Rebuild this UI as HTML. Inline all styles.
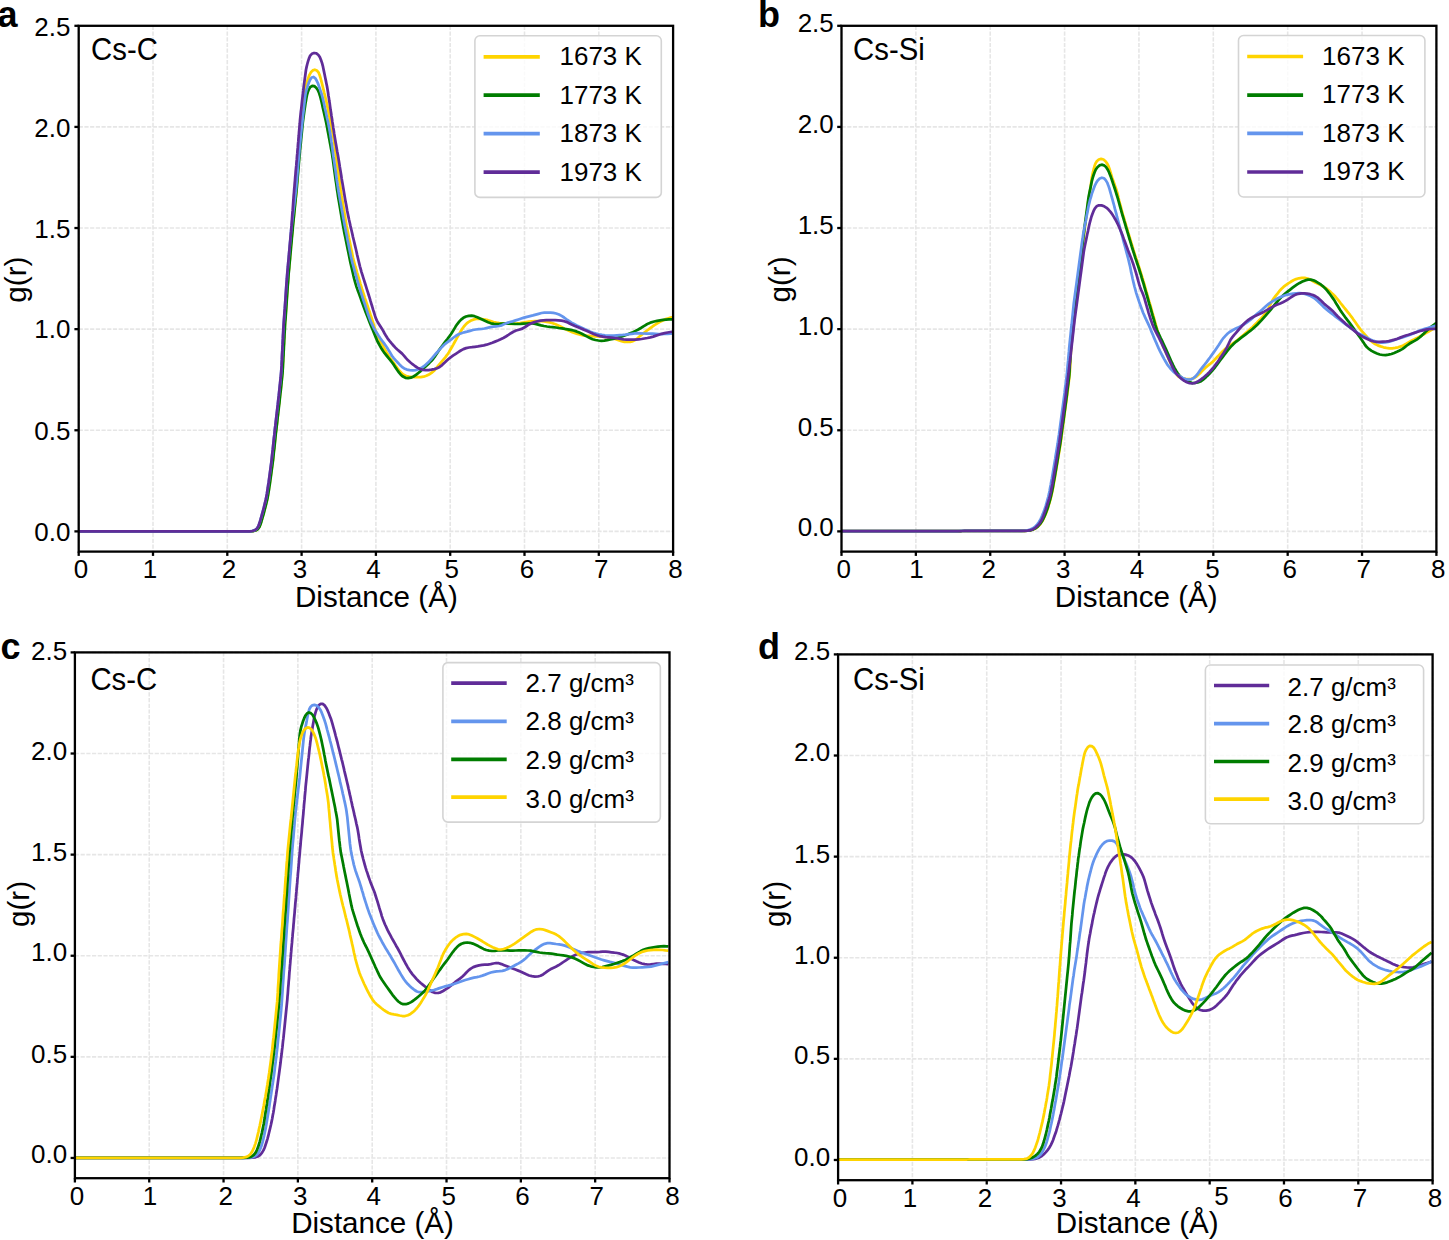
<!DOCTYPE html>
<html><head><meta charset="utf-8"><title>g(r)</title>
<style>
html,body{margin:0;padding:0;background:#fff;width:1449px;height:1240px;overflow:hidden;}
svg{display:block;}
text{font-family:"Liberation Sans", sans-serif;}
</style></head><body>
<svg width="1449" height="1240" viewBox="0 0 1449 1240">
<defs><clipPath id="clipa"><rect x="78.7" y="25.8" width="594.4" height="525.8"/></clipPath><clipPath id="clipb"><rect x="841.5" y="25.8" width="594.9" height="525.8"/></clipPath><clipPath id="clipc"><rect x="74.9" y="652.4" width="594.6" height="525.8"/></clipPath><clipPath id="clipd"><rect x="838.1" y="654.4" width="594.5" height="525.8"/></clipPath></defs>
<rect width="1449" height="1240" fill="#fff"/>
<g stroke="#e6e6e6" stroke-width="1.6" stroke-dasharray="4.2 1.5"><line x1="78.7" y1="25.8" x2="78.7" y2="551.6"/><line x1="153" y1="25.8" x2="153" y2="551.6"/><line x1="227.3" y1="25.8" x2="227.3" y2="551.6"/><line x1="301.6" y1="25.8" x2="301.6" y2="551.6"/><line x1="375.9" y1="25.8" x2="375.9" y2="551.6"/><line x1="450.2" y1="25.8" x2="450.2" y2="551.6"/><line x1="524.5" y1="25.8" x2="524.5" y2="551.6"/><line x1="598.8" y1="25.8" x2="598.8" y2="551.6"/><line x1="673.1" y1="25.8" x2="673.1" y2="551.6"/><line x1="78.7" y1="531.38" x2="673.1" y2="531.38"/><line x1="78.7" y1="430.26" x2="673.1" y2="430.26"/><line x1="78.7" y1="329.15" x2="673.1" y2="329.15"/><line x1="78.7" y1="228.03" x2="673.1" y2="228.03"/><line x1="78.7" y1="126.92" x2="673.1" y2="126.92"/><line x1="78.7" y1="25.8" x2="673.1" y2="25.8"/></g>
<g fill="none" stroke-width="2.75" stroke-linejoin="round" stroke-linecap="butt" clip-path="url(#clipa)">
<path stroke="#FFD400" d="M78.7,531.4 81.7,531.4 84.7,531.4 87.7,531.4 90.7,531.4 93.7,531.4 96.7,531.4 99.7,531.4 102.7,531.4 105.7,531.4 108.7,531.4 111.7,531.4 114.7,531.4 117.7,531.4 120.7,531.4 123.7,531.4 126.7,531.4 129.7,531.4 132.7,531.4 135.7,531.4 138.7,531.4 141.7,531.4 144.7,531.4 147.7,531.4 150.7,531.4 153.7,531.4 156.7,531.4 159.7,531.4 162.7,531.4 165.7,531.4 168.7,531.4 171.7,531.4 174.7,531.4 177.7,531.4 180.7,531.4 183.7,531.4 186.7,531.4 189.7,531.4 192.7,531.4 195.7,531.4 198.7,531.4 201.7,531.4 204.7,531.4 207.7,531.4 210.7,531.4 213.7,531.4 216.7,531.4 219.7,531.4 222.7,531.4 225.7,531.4 228.7,531.4 231.7,531.4 234.7,531.4 237.7,531.4 240.7,531.4 243.7,531.4 246.7,531.4 249.7,531.4 252.7,531.1 255.4,530.5 257.6,529.0 259.3,526.9 260.4,524.2 261.2,521.4 262.1,518.5 262.9,515.6 263.7,512.7 264.5,509.8 265.2,506.9 265.9,504.0 266.7,501.1 267.3,498.2 267.9,495.2 268.3,492.3 268.8,489.3 269.2,486.3 269.7,483.4 270.1,480.4 270.5,477.4 270.9,474.4 271.3,471.5 271.7,468.5 272.1,465.5 272.5,462.5 272.9,459.6 273.2,456.6 273.5,453.6 273.8,450.6 274.2,447.6 274.5,444.6 274.8,441.7 275.1,438.7 275.4,435.7 275.7,432.7 276.1,429.7 276.4,426.7 276.8,423.8 277.1,420.8 277.5,417.8 277.8,414.8 278.1,411.8 278.5,408.9 278.8,405.9 279.2,402.9 279.5,399.9 279.8,396.9 280.1,394.0 280.5,391.0 280.8,388.0 281.1,385.0 281.4,382.0 281.7,379.0 282.0,376.0 282.3,373.1 282.5,370.1 282.7,367.1 282.8,364.1 283.0,361.1 283.1,358.1 283.3,355.1 283.4,352.1 283.6,349.1 283.7,346.1 283.9,343.1 284.0,340.1 284.2,337.1 284.3,334.1 284.5,331.1 284.6,328.1 284.8,325.1 285.0,322.1 285.2,319.1 285.5,316.1 285.7,313.1 285.9,310.1 286.1,307.2 286.3,304.2 286.5,301.2 286.7,298.2 286.9,295.2 287.1,292.2 287.3,289.2 287.5,286.2 287.7,283.2 288.0,280.2 288.2,277.2 288.4,274.2 288.7,271.2 289.0,268.3 289.2,265.3 289.5,262.3 289.8,259.3 290.0,256.3 290.3,253.3 290.6,250.3 290.8,247.3 291.1,244.3 291.4,241.4 291.6,238.4 291.9,235.4 292.2,232.4 292.4,229.4 292.7,226.4 293.0,223.4 293.4,220.4 293.7,217.5 294.0,214.5 294.3,211.5 294.6,208.5 294.9,205.5 295.2,202.5 295.5,199.5 295.9,196.6 296.2,193.6 296.4,190.6 296.7,187.6 296.9,184.6 297.1,181.6 297.3,178.6 297.5,175.6 297.7,172.6 297.9,169.6 298.1,166.6 298.3,163.6 298.5,160.7 298.6,157.7 298.8,154.7 299.0,151.7 299.2,148.7 299.4,145.7 299.6,142.7 299.8,139.7 300.0,136.7 300.2,133.7 300.4,130.7 300.6,127.7 300.8,124.7 301.1,121.7 301.4,118.7 301.7,115.8 302.1,112.8 302.4,109.8 302.7,106.8 303.0,103.8 303.3,100.8 303.7,97.9 304.0,94.9 304.5,91.9 305.1,89.0 305.8,86.1 306.7,83.2 307.5,80.4 308.5,77.5 309.5,74.8 310.9,72.3 312.8,70.4 314.8,69.7 316.8,70.5 318.5,72.4 319.6,75.0 320.5,77.8 321.2,80.7 322.0,83.6 322.7,86.5 323.4,89.4 324.1,92.3 324.9,95.3 325.6,98.2 326.3,101.1 326.9,104.0 327.5,107.0 328.1,109.9 328.7,112.9 329.2,115.8 329.8,118.7 330.4,121.7 331.0,124.6 331.6,127.6 332.2,130.5 332.8,133.5 333.3,136.4 333.8,139.4 334.2,142.3 334.6,145.3 335.0,148.3 335.4,151.3 335.8,154.2 336.2,157.2 336.6,160.2 337.0,163.2 337.4,166.1 337.8,169.1 338.3,172.1 338.7,175.0 339.1,178.0 339.5,181.0 339.9,184.0 340.3,186.9 340.7,189.9 341.2,192.9 341.6,195.8 342.1,198.8 342.6,201.8 343.1,204.7 343.6,207.7 344.0,210.6 344.5,213.6 345.0,216.6 345.5,219.5 346.0,222.5 346.5,225.4 347.1,228.4 347.7,231.3 348.3,234.3 348.8,237.2 349.4,240.2 350.0,243.1 350.6,246.0 351.2,249.0 351.8,251.9 352.4,254.9 353.0,257.8 353.7,260.7 354.5,263.6 355.3,266.5 356.2,269.4 357.0,272.3 357.9,275.1 358.7,278.0 359.6,280.9 360.4,283.8 361.3,286.6 362.1,289.5 363.1,292.4 364.0,295.2 364.9,298.1 365.9,300.9 366.8,303.8 367.8,306.6 368.7,309.5 369.7,312.3 370.6,315.2 371.6,318.0 372.5,320.9 373.4,323.7 374.3,326.6 375.2,329.4 376.2,332.2 377.4,335.0 378.7,337.7 380.0,340.4 381.4,343.1 382.8,345.7 384.2,348.4 385.7,351.0 387.2,353.6 388.8,356.1 390.5,358.6 392.3,361.0 394.0,363.4 395.7,365.9 397.5,368.3 399.3,370.7 401.3,372.8 403.6,374.7 406.2,376.0 408.9,376.7 411.9,377.0 414.8,377.1 417.8,377.2 420.7,377.2 423.6,376.7 426.3,375.8 429.0,374.5 431.5,372.9 433.8,371.0 435.8,368.8 437.7,366.5 439.6,364.2 441.5,361.9 443.4,359.6 445.3,357.3 447.1,354.9 448.8,352.4 450.3,349.8 451.8,347.2 453.3,344.6 454.7,342.0 456.2,339.4 457.6,336.7 459.1,334.1 460.6,331.5 462.1,329.0 463.9,326.5 465.8,324.3 468.0,322.4 470.5,320.8 473.2,319.7 476.1,319.0 479.0,318.8 481.9,319.0 484.9,319.5 487.8,320.2 490.6,321.1 493.5,322.0 496.4,322.7 499.3,323.1 502.3,323.3 505.3,323.4 508.2,323.7 511.2,323.8 514.2,323.7 517.2,323.4 520.1,323.0 523.1,322.5 526.1,322.1 529.0,321.7 532.0,321.4 535.0,321.2 538.0,321.2 541.0,321.2 544.0,321.4 546.9,321.8 549.9,322.4 552.7,323.2 555.5,324.2 558.3,325.4 560.9,326.8 563.6,328.2 566.3,329.5 569.0,330.8 571.7,331.9 574.5,333.0 577.4,334.0 580.3,334.7 583.2,335.3 586.1,335.7 589.1,335.9 592.1,336.1 595.1,336.3 598.1,336.5 601.1,336.7 604.1,336.9 607.1,337.2 610.0,337.7 612.9,338.4 615.8,339.3 618.6,340.2 621.5,341.1 624.4,341.8 627.3,342.0 630.2,341.8 633.0,341.1 635.5,339.8 637.8,338.0 640.1,336.0 642.4,334.1 644.7,332.3 647.1,330.5 649.6,328.7 652.0,326.9 654.4,325.2 656.9,323.6 659.5,322.0 662.2,320.7 664.9,319.4 667.7,318.5 670.6,317.7 673.5,317.1 675.0,317.0"/>
<path stroke="#007D00" d="M78.7,531.4 81.7,531.4 84.7,531.4 87.7,531.4 90.7,531.4 93.7,531.4 96.7,531.4 99.7,531.4 102.7,531.4 105.7,531.4 108.7,531.4 111.7,531.4 114.7,531.4 117.7,531.4 120.7,531.4 123.7,531.4 126.7,531.4 129.7,531.4 132.7,531.4 135.8,531.4 138.8,531.4 141.8,531.4 144.8,531.4 147.8,531.4 150.8,531.4 153.8,531.4 156.8,531.4 159.8,531.4 162.8,531.4 165.8,531.4 168.8,531.4 171.8,531.4 174.8,531.4 177.8,531.4 180.8,531.4 183.8,531.4 186.8,531.4 189.8,531.4 192.8,531.4 195.8,531.4 198.8,531.4 201.8,531.4 204.8,531.4 207.8,531.4 210.8,531.4 213.8,531.4 216.8,531.4 219.8,531.4 222.8,531.4 225.8,531.4 228.8,531.4 231.8,531.4 234.8,531.4 237.8,531.4 240.8,531.4 243.9,531.4 246.9,531.4 249.8,531.4 252.8,531.2 255.5,530.5 257.8,529.1 259.4,526.9 260.5,524.3 261.4,521.5 262.2,518.6 263.1,515.7 263.9,512.8 264.6,509.9 265.4,507.0 266.1,504.1 266.8,501.2 267.5,498.2 268.0,495.3 268.5,492.3 269.0,489.4 269.4,486.4 269.9,483.4 270.3,480.4 270.7,477.5 271.1,474.5 271.5,471.5 271.9,468.5 272.3,465.6 272.7,462.6 273.1,459.6 273.4,456.6 273.7,453.6 274.0,450.7 274.4,447.7 274.7,444.7 275.0,441.7 275.3,438.7 275.6,435.7 275.9,432.7 276.3,429.8 276.6,426.8 277.0,423.8 277.3,420.8 277.6,417.8 278.0,414.8 278.3,411.9 278.7,408.9 279.0,405.9 279.4,402.9 279.7,399.9 280.0,396.9 280.3,393.9 280.7,391.0 281.0,388.0 281.3,385.0 281.6,382.0 281.9,379.0 282.2,376.0 282.5,373.0 282.7,370.0 282.9,367.1 283.0,364.1 283.2,361.1 283.3,358.1 283.5,355.1 283.6,352.1 283.8,349.1 283.9,346.1 284.1,343.1 284.2,340.1 284.4,337.1 284.5,334.1 284.7,331.1 284.9,328.1 285.0,325.1 285.2,322.1 285.5,319.1 285.7,316.1 285.9,313.1 286.1,310.1 286.3,307.1 286.5,304.1 286.7,301.1 286.9,298.1 287.1,295.1 287.3,292.1 287.5,289.1 287.7,286.1 288.0,283.1 288.2,280.1 288.4,277.1 288.6,274.2 288.9,271.2 289.2,268.2 289.4,265.2 289.7,262.2 290.0,259.2 290.2,256.2 290.5,253.2 290.8,250.2 291.0,247.2 291.3,244.2 291.6,241.3 291.8,238.3 292.1,235.3 292.4,232.3 292.7,229.3 292.9,226.3 293.2,223.3 293.5,220.3 293.8,217.3 294.1,214.3 294.4,211.4 294.7,208.4 295.0,205.4 295.3,202.4 295.6,199.4 295.9,196.4 296.2,193.4 296.5,190.4 296.8,187.5 297.0,184.5 297.3,181.5 297.5,178.5 297.8,175.5 298.1,172.5 298.3,169.5 298.6,166.5 298.8,163.5 299.1,160.5 299.4,157.5 299.6,154.5 299.9,151.6 300.2,148.6 300.5,145.6 300.8,142.6 301.1,139.6 301.4,136.6 301.7,133.6 302.0,130.6 302.3,127.7 302.6,124.7 302.9,121.7 303.3,118.7 303.7,115.7 304.1,112.7 304.5,109.8 305.0,106.8 305.4,103.8 305.9,100.9 306.4,97.9 307.0,95.0 307.8,92.1 308.8,89.4 310.3,87.1 312.2,85.9 314.3,86.1 316.2,87.7 317.8,90.0 319.0,92.7 319.9,95.5 320.7,98.4 321.4,101.3 322.1,104.3 322.7,107.2 323.4,110.1 324.1,113.1 324.7,116.0 325.4,118.9 326.0,121.8 326.6,124.8 327.2,127.7 327.7,130.7 328.3,133.6 328.8,136.6 329.4,139.5 329.9,142.5 330.5,145.4 331.0,148.4 331.6,151.4 332.1,154.3 332.5,157.3 333.0,160.3 333.4,163.2 333.8,166.2 334.2,169.2 334.6,172.2 335.0,175.1 335.4,178.1 335.8,181.1 336.3,184.0 336.7,187.0 337.1,190.0 337.6,193.0 338.0,195.9 338.5,198.9 339.0,201.8 339.5,204.8 340.0,207.8 340.5,210.7 341.0,213.7 341.5,216.7 341.9,219.6 342.5,222.6 343.0,225.5 343.6,228.5 344.1,231.4 344.7,234.4 345.3,237.3 345.9,240.3 346.5,243.2 347.1,246.2 347.7,249.1 348.3,252.0 348.9,255.0 349.5,257.9 350.1,260.9 350.7,263.8 351.4,266.7 352.1,269.6 352.8,272.6 353.4,275.5 354.1,278.4 354.9,281.3 355.7,284.2 356.6,287.1 357.6,289.9 358.7,292.7 359.7,295.5 360.7,298.4 361.7,301.2 362.7,304.0 363.7,306.8 364.8,309.7 365.8,312.5 366.9,315.3 368.0,318.1 369.1,320.9 370.2,323.7 371.3,326.4 372.5,329.2 373.6,332.0 374.7,334.8 375.9,337.6 377.0,340.3 378.4,343.0 379.8,345.6 381.3,348.2 382.9,350.8 384.6,353.2 386.5,355.5 388.4,357.8 390.3,360.1 392.1,362.5 393.9,364.9 395.5,367.4 397.2,370.0 398.9,372.4 400.8,374.7 403.0,376.6 405.4,377.8 408.1,378.2 410.9,377.7 413.5,376.5 416.0,374.9 418.3,373.0 420.6,371.1 422.8,369.1 425.0,367.1 427.2,365.0 429.4,362.9 431.5,360.8 433.4,358.5 435.2,356.1 436.9,353.6 438.5,351.1 440.2,348.6 441.9,346.2 443.7,343.8 445.5,341.4 447.4,339.0 449.2,336.6 450.9,334.2 452.5,331.7 454.1,329.1 455.6,326.6 457.3,324.1 459.2,321.7 461.1,319.6 463.4,317.8 466.0,316.5 468.8,315.8 471.6,315.7 474.5,316.2 477.3,317.2 480.0,318.5 482.7,319.8 485.4,321.1 488.1,322.3 490.9,323.3 493.8,323.9 496.7,324.1 499.7,323.9 502.6,323.6 505.6,323.5 508.6,323.5 511.6,323.7 514.6,323.9 517.6,324.0 520.6,323.9 523.6,323.7 526.5,323.5 529.5,323.4 532.5,323.4 535.4,323.8 538.3,324.6 541.1,325.4 544.0,326.0 547.0,326.5 550.0,326.9 552.9,327.2 555.9,327.5 558.9,328.0 561.8,328.4 564.8,328.9 567.8,329.3 570.7,329.8 573.6,330.5 576.4,331.4 579.2,332.6 581.9,333.8 584.6,335.2 587.2,336.6 589.9,338.0 592.6,339.2 595.4,340.0 598.4,340.5 601.3,340.8 604.3,340.7 607.2,340.2 610.1,339.5 613.1,338.8 616.0,338.1 618.9,337.3 621.7,336.5 624.6,335.5 627.4,334.5 630.2,333.3 632.9,332.2 635.6,330.9 638.3,329.5 640.9,328.0 643.4,326.4 646.0,324.8 648.6,323.4 651.3,322.3 654.2,321.5 657.1,320.9 660.1,320.4 663.0,319.9 666.0,319.6 669.0,319.4 672.0,319.4 675.0,319.4"/>
<path stroke="#6495ED" d="M78.7,531.4 81.7,531.4 84.7,531.4 87.7,531.4 90.7,531.4 93.7,531.4 96.7,531.4 99.7,531.4 102.7,531.4 105.7,531.4 108.7,531.4 111.7,531.4 114.7,531.4 117.7,531.4 120.7,531.4 123.7,531.4 126.8,531.4 129.8,531.4 132.8,531.4 135.8,531.4 138.8,531.4 141.8,531.4 144.8,531.4 147.8,531.4 150.8,531.4 153.8,531.4 156.8,531.4 159.8,531.4 162.8,531.4 165.8,531.4 168.8,531.4 171.8,531.4 174.8,531.4 177.8,531.4 180.8,531.4 183.8,531.4 186.8,531.4 189.8,531.4 192.8,531.4 195.8,531.4 198.8,531.4 201.8,531.4 204.8,531.4 207.8,531.4 210.8,531.4 213.8,531.4 216.8,531.4 219.9,531.4 222.9,531.4 225.9,531.4 228.9,531.4 231.9,531.4 234.9,531.4 237.9,531.4 240.9,531.4 243.9,531.4 246.9,531.4 249.9,531.3 252.7,530.9 255.3,529.9 257.2,528.2 258.6,525.7 259.6,523.0 260.4,520.1 261.2,517.2 262.0,514.3 262.8,511.4 263.6,508.5 264.3,505.6 265.1,502.7 265.8,499.8 266.4,496.8 266.9,493.9 267.3,490.9 267.8,487.9 268.2,485.0 268.7,482.0 269.1,479.0 269.5,476.0 269.9,473.1 270.3,470.1 270.7,467.1 271.1,464.1 271.5,461.2 271.8,458.2 272.1,455.2 272.5,452.2 272.8,449.2 273.1,446.2 273.4,443.2 273.7,440.3 274.1,437.3 274.4,434.3 274.7,431.3 275.0,428.3 275.4,425.3 275.7,422.3 276.1,419.4 276.4,416.4 276.8,413.4 277.1,410.4 277.5,407.4 277.8,404.4 278.1,401.5 278.5,398.5 278.8,395.5 279.1,392.5 279.4,389.5 279.7,386.5 280.1,383.5 280.4,380.6 280.7,377.6 281.0,374.6 281.2,371.6 281.4,368.6 281.6,365.6 281.7,362.6 281.9,359.6 282.0,356.6 282.2,353.6 282.3,350.6 282.5,347.6 282.6,344.6 282.8,341.6 282.9,338.6 283.0,335.6 283.2,332.6 283.4,329.6 283.5,326.6 283.7,323.6 283.9,320.6 284.2,317.6 284.4,314.6 284.6,311.6 284.8,308.6 285.0,305.6 285.2,302.6 285.4,299.6 285.6,296.6 285.8,293.7 286.0,290.7 286.2,287.7 286.4,284.7 286.7,281.7 286.9,278.7 287.1,275.7 287.4,272.7 287.6,269.7 287.9,266.7 288.2,263.7 288.4,260.7 288.7,257.7 289.0,254.7 289.2,251.7 289.5,248.8 289.8,245.8 290.0,242.8 290.3,239.8 290.6,236.8 290.8,233.8 291.1,230.8 291.4,227.8 291.8,224.8 292.1,221.9 292.5,218.9 292.8,215.9 293.2,212.9 293.5,209.9 293.9,206.9 294.3,204.0 294.6,201.0 295.0,198.0 295.3,195.0 295.7,192.0 296.0,189.0 296.3,186.1 296.5,183.1 296.8,180.1 297.1,177.1 297.3,174.1 297.6,171.1 297.8,168.1 298.1,165.1 298.3,162.1 298.6,159.1 298.9,156.1 299.2,153.2 299.4,150.2 299.7,147.2 300.0,144.2 300.3,141.2 300.6,138.2 300.9,135.2 301.2,132.2 301.5,129.2 301.8,126.3 302.2,123.3 302.5,120.3 302.8,117.3 303.1,114.3 303.5,111.3 303.8,108.3 304.1,105.4 304.5,102.4 304.8,99.4 305.2,96.4 305.6,93.5 306.3,90.5 307.2,87.7 308.1,84.8 309.1,82.0 310.3,79.4 311.7,77.5 313.4,77.0 315.1,78.1 316.5,80.3 317.8,83.0 318.8,85.8 319.8,88.6 320.7,91.4 321.7,94.3 322.5,97.2 323.2,100.1 323.9,103.0 324.5,106.0 325.1,108.9 325.8,111.8 326.4,114.8 327.0,117.7 327.7,120.6 328.3,123.6 328.9,126.5 329.5,129.5 330.0,132.4 330.5,135.4 330.9,138.3 331.3,141.3 331.8,144.3 332.2,147.3 332.6,150.2 333.0,153.2 333.4,156.2 333.9,159.2 334.3,162.1 334.7,165.1 335.1,168.1 335.6,171.1 336.0,174.0 336.4,177.0 336.8,180.0 337.3,182.9 337.7,185.9 338.2,188.9 338.6,191.8 339.2,194.8 339.7,197.8 340.2,200.7 340.8,203.7 341.3,206.6 341.8,209.6 342.4,212.5 342.9,215.5 343.4,218.4 344.0,221.4 344.5,224.4 345.1,227.3 345.7,230.2 346.3,233.2 346.9,236.1 347.4,239.1 348.0,242.0 348.6,245.0 349.2,247.9 349.8,250.9 350.4,253.8 351.0,256.7 351.7,259.7 352.4,262.6 353.2,265.5 354.0,268.4 354.8,271.3 355.6,274.2 356.4,277.0 357.2,279.9 358.1,282.8 358.9,285.7 359.8,288.6 360.7,291.5 361.6,294.3 362.5,297.2 363.4,300.0 364.4,302.9 365.3,305.7 366.3,308.6 367.2,311.4 368.1,314.3 369.1,317.1 370.1,319.9 371.3,322.7 372.6,325.4 373.9,328.1 375.4,330.7 377.0,333.3 378.6,335.8 380.3,338.3 382.1,340.7 383.9,343.1 385.6,345.5 387.3,348.0 388.8,350.6 390.4,353.1 391.9,355.7 393.7,358.1 395.7,360.3 397.7,362.5 399.7,364.7 401.9,366.8 404.2,368.4 406.9,369.6 409.7,370.2 412.7,370.4 415.6,370.1 418.4,369.3 421.1,368.1 423.6,366.5 425.9,364.6 428.1,362.6 430.1,360.4 432.1,358.1 434.0,355.8 436.0,353.5 438.0,351.3 440.0,349.1 442.0,346.9 444.2,344.8 446.5,342.9 448.9,341.1 451.3,339.3 453.6,337.5 456.0,335.8 458.6,334.3 461.4,333.2 464.2,332.3 467.1,331.6 470.0,330.8 472.9,330.0 475.8,329.5 478.7,329.2 481.6,329.0 484.5,328.5 487.4,327.8 490.4,327.1 493.3,326.6 496.2,326.3 499.1,326.0 501.8,325.3 504.4,324.1 507.1,322.9 509.9,322.0 512.7,321.3 515.6,320.4 518.4,319.5 521.3,318.5 524.1,317.6 527.0,316.8 530.0,316.1 532.9,315.4 535.7,314.6 538.6,313.8 541.5,313.0 544.4,312.6 547.4,312.5 550.4,312.6 553.4,312.9 556.2,313.5 559.0,314.5 561.6,315.9 564.1,317.5 566.5,319.3 569.0,321.0 571.5,322.6 574.1,324.0 576.8,325.4 579.5,326.7 582.2,328.0 584.9,329.3 587.7,330.5 590.4,331.7 593.2,332.7 596.1,333.6 599.0,334.3 602.0,334.9 604.9,335.3 607.9,335.6 610.9,335.7 613.9,335.6 616.9,335.3 619.8,335.1 622.8,334.9 625.8,334.6 628.8,334.2 631.8,333.8 634.7,333.4 637.7,333.2 640.7,333.3 643.6,333.5 646.6,333.6 649.6,333.6 652.6,333.6 655.6,333.8 658.5,334.0 661.5,334.1 664.5,334.0 667.5,333.8 670.5,333.7 673.5,333.7 675.0,333.6"/>
<path stroke="#602C98" d="M78.7,531.4 81.7,531.4 84.7,531.4 87.7,531.4 90.7,531.4 93.7,531.4 96.7,531.4 99.7,531.4 102.7,531.4 105.7,531.4 108.7,531.4 111.7,531.4 114.7,531.4 117.7,531.4 120.7,531.4 123.7,531.4 126.7,531.4 129.7,531.4 132.7,531.4 135.7,531.4 138.7,531.4 141.7,531.4 144.7,531.4 147.7,531.4 150.7,531.4 153.7,531.4 156.7,531.4 159.7,531.4 162.7,531.4 165.7,531.4 168.7,531.4 171.7,531.4 174.7,531.4 177.7,531.4 180.7,531.4 183.7,531.4 186.7,531.4 189.7,531.4 192.7,531.4 195.7,531.4 198.7,531.4 201.7,531.4 204.7,531.4 207.7,531.4 210.7,531.4 213.7,531.4 216.7,531.4 219.7,531.4 222.7,531.4 225.7,531.4 228.7,531.4 231.7,531.4 234.7,531.4 237.8,531.4 240.8,531.4 243.8,531.4 246.8,531.4 249.7,531.3 252.6,531.0 255.2,530.0 257.2,528.3 258.5,525.8 259.5,523.1 260.4,520.2 261.2,517.3 262.0,514.4 262.8,511.6 263.6,508.7 264.3,505.7 265.0,502.8 265.7,499.9 266.3,497.0 266.9,494.0 267.3,491.1 267.8,488.1 268.2,485.1 268.7,482.2 269.1,479.2 269.5,476.2 269.9,473.2 270.3,470.3 270.7,467.3 271.1,464.3 271.5,461.3 271.8,458.4 272.1,455.4 272.4,452.4 272.8,449.4 273.1,446.4 273.4,443.4 273.7,440.5 274.0,437.5 274.4,434.5 274.7,431.5 275.0,428.5 275.4,425.5 275.7,422.6 276.0,419.6 276.4,416.6 276.7,413.6 277.1,410.6 277.4,407.7 277.8,404.7 278.1,401.7 278.4,398.7 278.8,395.7 279.1,392.7 279.4,389.8 279.7,386.8 280.0,383.8 280.3,380.8 280.7,377.8 280.9,374.8 281.2,371.8 281.4,368.9 281.6,365.9 281.7,362.9 281.9,359.9 282.0,356.9 282.1,353.9 282.3,350.9 282.4,347.9 282.6,344.9 282.7,341.9 282.9,338.9 283.0,335.9 283.2,332.9 283.3,329.9 283.5,326.9 283.7,323.9 283.9,320.9 284.1,317.9 284.3,314.9 284.5,311.9 284.8,308.9 285.0,305.9 285.2,302.9 285.4,300.0 285.6,297.0 285.8,294.0 286.0,291.0 286.2,288.0 286.4,285.0 286.6,282.0 286.9,279.0 287.1,276.0 287.3,273.0 287.6,270.0 287.9,267.0 288.1,264.0 288.4,261.1 288.7,258.1 288.9,255.1 289.2,252.1 289.5,249.1 289.7,246.1 290.0,243.1 290.3,240.1 290.5,237.1 290.8,234.2 291.1,231.2 291.3,228.2 291.6,225.2 291.8,222.2 292.0,219.2 292.2,216.2 292.4,213.2 292.7,210.2 292.9,207.2 293.1,204.2 293.3,201.2 293.5,198.3 293.7,195.3 294.0,192.3 294.2,189.3 294.5,186.3 294.7,183.3 295.0,180.3 295.2,177.3 295.5,174.3 295.7,171.3 296.0,168.3 296.3,165.4 296.5,162.4 296.8,159.4 297.0,156.4 297.3,153.4 297.5,150.4 297.8,147.4 298.0,144.4 298.3,141.4 298.5,138.4 298.8,135.5 299.0,132.5 299.3,129.5 299.5,126.5 299.8,123.5 300.0,120.5 300.3,117.5 300.6,114.5 300.9,111.5 301.3,108.6 301.6,105.6 301.9,102.6 302.2,99.6 302.6,96.6 302.9,93.6 303.3,90.7 303.6,87.7 304.0,84.7 304.4,81.7 304.8,78.8 305.2,75.8 305.6,72.8 306.0,69.8 306.6,66.9 307.3,64.0 308.1,61.1 309.0,58.3 310.2,55.7 311.9,53.8 314.1,53.0 316.4,53.4 318.4,55.0 319.9,57.3 321.0,60.0 322.0,62.9 322.8,65.8 323.4,68.7 324.0,71.6 324.6,74.6 325.2,77.5 325.8,80.4 326.4,83.4 327.0,86.3 327.5,89.3 328.0,92.2 328.4,95.2 328.9,98.2 329.3,101.1 329.8,104.1 330.2,107.1 330.6,110.1 331.1,113.0 331.5,116.0 332.0,119.0 332.4,121.9 332.9,124.9 333.3,127.9 333.8,130.8 334.2,133.8 334.7,136.8 335.2,139.7 335.7,142.7 336.2,145.6 336.7,148.6 337.2,151.5 337.8,154.5 338.3,157.5 338.8,160.4 339.3,163.4 339.7,166.3 340.2,169.3 340.7,172.3 341.2,175.2 341.6,178.2 342.1,181.2 342.6,184.1 343.1,187.1 343.6,190.0 344.1,193.0 344.6,195.9 345.1,198.9 345.6,201.9 346.2,204.8 346.7,207.8 347.2,210.7 347.8,213.7 348.4,216.6 349.0,219.5 349.7,222.5 350.3,225.4 351.0,228.3 351.7,231.2 352.4,234.2 353.0,237.1 353.7,240.0 354.4,242.9 355.1,245.9 355.8,248.8 356.5,251.7 357.1,254.6 357.8,257.5 358.5,260.5 359.2,263.4 359.9,266.3 360.7,269.2 361.5,272.1 362.4,274.9 363.3,277.8 364.2,280.7 365.1,283.5 366.0,286.4 366.9,289.3 367.8,292.1 368.7,295.0 369.6,297.9 370.4,300.7 371.3,303.6 372.2,306.5 373.0,309.4 373.9,312.2 374.8,315.1 375.7,317.9 376.9,320.6 378.4,323.3 380.0,325.8 381.6,328.3 383.2,330.9 384.6,333.5 386.1,336.1 387.7,338.6 389.5,340.9 391.4,343.2 393.4,345.5 395.4,347.7 397.6,349.7 399.8,351.6 402.1,353.6 404.1,355.8 406.0,358.1 408.0,360.3 410.2,362.3 412.5,364.2 414.9,366.0 417.4,367.6 420.0,369.0 422.8,369.9 425.7,370.2 428.6,370.1 431.5,369.7 434.3,369.1 437.1,368.2 439.7,366.9 442.1,365.1 444.2,363.1 446.3,361.0 448.5,359.0 450.9,357.1 453.3,355.4 455.8,353.8 458.3,352.2 460.8,350.5 463.4,349.1 466.1,348.1 469.0,347.5 471.9,347.2 474.9,346.8 477.9,346.4 480.8,345.9 483.8,345.4 486.6,344.7 489.5,343.7 492.3,342.7 495.1,341.6 497.9,340.5 500.6,339.3 503.3,338.0 505.9,336.5 508.4,334.9 510.9,333.2 513.4,331.7 516.1,330.5 518.9,329.7 521.6,328.9 524.2,327.6 526.6,326.0 529.1,324.4 531.8,323.1 534.6,322.1 537.4,321.3 540.4,320.7 543.3,320.3 546.3,320.1 549.3,320.0 552.3,320.0 555.3,320.1 558.3,320.3 561.3,320.6 564.1,321.2 566.9,322.1 569.5,323.4 572.2,324.8 574.9,326.0 577.6,327.1 580.4,328.3 583.2,329.4 585.9,330.6 588.7,331.8 591.4,333.0 594.2,334.2 597.0,335.2 599.9,336.1 602.8,336.7 605.8,337.1 608.7,337.4 611.7,337.7 614.7,338.0 617.7,338.4 620.6,338.8 623.6,339.3 626.6,339.6 629.5,339.7 632.5,339.7 635.5,339.6 638.5,339.3 641.5,339.0 644.5,338.5 647.4,338.0 650.3,337.4 653.2,336.6 656.0,335.6 658.9,334.7 661.7,333.8 664.6,333.1 667.6,332.5 670.5,332.0 673.5,331.6 675.0,331.5"/>
</g>
<rect x="78.7" y="25.8" width="594.4" height="525.8" fill="none" stroke="#000" stroke-width="2.3"/>
<g stroke="#000" stroke-width="2.3"><line x1="78.7" y1="551.6" x2="78.7" y2="555.9"/><line x1="153" y1="551.6" x2="153" y2="555.9"/><line x1="227.3" y1="551.6" x2="227.3" y2="555.9"/><line x1="301.6" y1="551.6" x2="301.6" y2="555.9"/><line x1="375.9" y1="551.6" x2="375.9" y2="555.9"/><line x1="450.2" y1="551.6" x2="450.2" y2="555.9"/><line x1="524.5" y1="551.6" x2="524.5" y2="555.9"/><line x1="598.8" y1="551.6" x2="598.8" y2="555.9"/><line x1="673.1" y1="551.6" x2="673.1" y2="555.9"/><line x1="74.4" y1="531.38" x2="78.7" y2="531.38"/><line x1="74.4" y1="430.26" x2="78.7" y2="430.26"/><line x1="74.4" y1="329.15" x2="78.7" y2="329.15"/><line x1="74.4" y1="228.03" x2="78.7" y2="228.03"/><line x1="74.4" y1="126.92" x2="78.7" y2="126.92"/><line x1="74.4" y1="25.8" x2="78.7" y2="25.8"/></g>
<rect x="474.9" y="35.8" width="186.4" height="161.6" rx="5" ry="5" fill="#fff" fill-opacity="0.8" stroke="#d4d4d4" stroke-width="1.6"/>
<line x1="483.6" y1="56.8" x2="539.8" y2="56.8" stroke="#FFD400" stroke-width="3.7"/>
<line x1="483.6" y1="95.1" x2="539.8" y2="95.1" stroke="#007D00" stroke-width="3.7"/>
<line x1="483.6" y1="133.7" x2="539.8" y2="133.7" stroke="#6495ED" stroke-width="3.7"/>
<line x1="483.6" y1="172.1" x2="539.8" y2="172.1" stroke="#602C98" stroke-width="3.7"/>
<g stroke="#e6e6e6" stroke-width="1.6" stroke-dasharray="4.2 1.5"><line x1="841.5" y1="25.8" x2="841.5" y2="551.6"/><line x1="915.86" y1="25.8" x2="915.86" y2="551.6"/><line x1="990.23" y1="25.8" x2="990.23" y2="551.6"/><line x1="1064.59" y1="25.8" x2="1064.59" y2="551.6"/><line x1="1138.95" y1="25.8" x2="1138.95" y2="551.6"/><line x1="1213.31" y1="25.8" x2="1213.31" y2="551.6"/><line x1="1287.68" y1="25.8" x2="1287.68" y2="551.6"/><line x1="1362.04" y1="25.8" x2="1362.04" y2="551.6"/><line x1="1436.4" y1="25.8" x2="1436.4" y2="551.6"/><line x1="841.5" y1="531.38" x2="1436.4" y2="531.38"/><line x1="841.5" y1="430.26" x2="1436.4" y2="430.26"/><line x1="841.5" y1="329.15" x2="1436.4" y2="329.15"/><line x1="841.5" y1="228.03" x2="1436.4" y2="228.03"/><line x1="841.5" y1="126.92" x2="1436.4" y2="126.92"/><line x1="841.5" y1="25.8" x2="1436.4" y2="25.8"/></g>
<g fill="none" stroke-width="2.75" stroke-linejoin="round" stroke-linecap="butt" clip-path="url(#clipb)">
<path stroke="#FFD400" d="M841.5,531.2 844.5,531.2 847.5,531.2 850.5,531.2 853.5,531.2 856.5,531.2 859.5,531.2 862.5,531.2 865.5,531.2 868.5,531.1 871.5,531.1 874.5,531.1 877.5,531.1 880.5,531.1 883.5,531.1 886.5,531.1 889.5,531.1 892.6,531.1 895.6,531.1 898.6,531.1 901.6,531.1 904.6,531.1 907.6,531.1 910.6,531.1 913.6,531.1 916.6,531.0 919.6,531.0 922.6,531.0 925.6,531.0 928.6,531.0 931.6,531.0 934.6,531.0 937.6,531.0 940.6,531.0 943.6,531.0 946.6,531.0 949.6,531.0 952.6,531.0 955.6,531.0 958.6,531.0 961.6,531.0 964.6,530.9 967.6,530.9 970.6,530.9 973.6,530.9 976.6,530.9 979.6,530.9 982.6,530.9 985.6,530.9 988.6,530.9 991.6,530.9 994.7,530.9 997.7,530.9 1000.7,530.9 1003.7,530.9 1006.7,530.9 1009.7,530.9 1012.7,530.8 1015.7,530.8 1018.7,530.8 1021.7,530.8 1024.7,530.8 1027.7,530.7 1030.6,530.3 1033.3,529.5 1035.9,528.1 1038.2,526.3 1040.2,524.2 1041.9,521.8 1043.4,519.2 1044.6,516.5 1045.8,513.7 1046.9,510.9 1047.9,508.1 1048.7,505.2 1049.6,502.3 1050.4,499.4 1051.2,496.5 1051.8,493.6 1052.4,490.7 1053.0,487.7 1053.5,484.8 1054.1,481.8 1054.6,478.9 1055.1,475.9 1055.6,472.9 1056.1,470.0 1056.6,467.0 1057.1,464.0 1057.6,461.1 1058.1,458.1 1058.6,455.2 1059.1,452.2 1059.6,449.2 1060.1,446.3 1060.5,443.3 1061.0,440.3 1061.4,437.4 1061.8,434.4 1062.2,431.4 1062.6,428.4 1063.0,425.5 1063.4,422.5 1063.8,419.5 1064.2,416.5 1064.6,413.6 1065.0,410.6 1065.4,407.6 1065.8,404.6 1066.2,401.7 1066.6,398.7 1067.0,395.7 1067.4,392.7 1067.8,389.7 1068.1,386.8 1068.5,383.8 1068.9,380.8 1069.2,377.8 1069.5,374.8 1069.8,371.8 1070.0,368.8 1070.1,365.8 1070.3,362.8 1070.4,359.8 1070.6,356.8 1070.8,353.9 1070.9,350.9 1071.1,347.9 1071.2,344.9 1071.4,341.9 1071.7,338.9 1072.0,335.9 1072.3,332.9 1072.6,329.9 1072.9,326.9 1073.2,323.9 1073.5,320.9 1073.8,318.0 1074.1,315.0 1074.4,312.0 1074.7,309.0 1075.1,306.0 1075.4,303.0 1075.8,300.0 1076.2,297.1 1076.6,294.1 1077.0,291.1 1077.4,288.1 1077.8,285.2 1078.2,282.2 1078.6,279.2 1079.0,276.2 1079.3,273.3 1079.7,270.3 1080.1,267.3 1080.5,264.3 1080.8,261.3 1081.1,258.3 1081.5,255.4 1081.8,252.4 1082.2,249.4 1082.5,246.4 1082.9,243.4 1083.2,240.5 1083.6,237.5 1084.0,234.5 1084.3,231.5 1084.7,228.5 1085.1,225.6 1085.5,222.6 1085.9,219.6 1086.3,216.6 1086.7,213.6 1087.1,210.7 1087.4,207.7 1087.8,204.7 1088.2,201.7 1088.7,198.8 1089.2,195.8 1089.7,192.9 1090.2,189.9 1090.6,186.9 1091.0,183.9 1091.4,181.0 1091.8,178.0 1092.4,175.0 1093.0,172.1 1093.7,169.2 1094.5,166.3 1095.4,163.6 1096.8,161.2 1098.8,159.5 1101.1,158.9 1103.5,159.5 1105.5,161.2 1107.2,163.6 1108.5,166.2 1109.5,169.0 1110.4,171.9 1111.3,174.8 1112.1,177.6 1113.1,180.5 1114.1,183.3 1115.1,186.1 1116.1,189.0 1117.0,191.8 1117.8,194.7 1118.4,197.6 1119.1,200.6 1119.9,203.5 1120.7,206.4 1121.4,209.3 1122.2,212.2 1123.0,215.1 1123.9,217.9 1124.7,220.8 1125.6,223.7 1126.4,226.6 1127.3,229.5 1128.1,232.3 1129.0,235.2 1129.9,238.1 1130.7,241.0 1131.6,243.8 1132.5,246.7 1133.3,249.6 1134.2,252.5 1135.1,255.3 1136.1,258.2 1137.0,261.0 1138.0,263.9 1138.9,266.7 1139.8,269.6 1140.7,272.5 1141.6,275.3 1142.5,278.2 1143.3,281.1 1144.2,283.9 1145.0,286.8 1145.8,289.7 1146.7,292.6 1147.5,295.5 1148.3,298.4 1149.1,301.3 1150.0,304.2 1150.8,307.0 1151.6,309.9 1152.4,312.8 1153.3,315.7 1154.1,318.6 1154.9,321.5 1155.7,324.4 1156.5,327.3 1157.3,330.2 1158.2,333.0 1159.2,335.9 1160.2,338.7 1161.3,341.5 1162.5,344.3 1163.6,347.0 1164.8,349.8 1166.0,352.5 1167.2,355.3 1168.4,358.1 1169.6,360.8 1170.8,363.6 1172.0,366.3 1173.3,369.0 1174.7,371.6 1176.3,374.1 1178.2,376.3 1180.5,377.7 1183.1,378.5 1185.9,378.9 1188.8,379.1 1191.6,378.8 1194.3,377.9 1196.7,376.3 1198.9,374.3 1201.0,372.2 1203.0,370.0 1205.2,367.9 1207.5,366.0 1209.8,364.2 1212.1,362.2 1214.3,360.2 1216.3,358.0 1218.4,355.8 1220.4,353.6 1222.5,351.4 1224.7,349.4 1227.0,347.5 1229.4,345.7 1231.9,344.1 1234.4,342.4 1236.8,340.7 1239.1,338.8 1241.4,336.8 1243.7,334.9 1246.0,332.9 1248.2,330.9 1250.5,328.9 1252.7,326.9 1254.8,324.8 1256.9,322.7 1259.0,320.5 1261.1,318.4 1263.2,316.2 1265.0,313.9 1266.8,311.4 1268.3,308.9 1269.6,306.2 1270.9,303.5 1272.2,300.8 1273.8,298.3 1275.6,295.9 1277.5,293.6 1279.3,291.2 1281.3,289.0 1283.5,286.9 1285.8,285.1 1288.3,283.4 1290.8,281.8 1293.4,280.3 1296.1,279.1 1298.9,278.3 1301.8,277.9 1304.7,277.9 1307.6,278.5 1310.2,279.6 1312.8,281.1 1315.3,282.5 1318.0,283.8 1320.7,285.1 1323.3,286.6 1325.8,288.2 1328.2,290.0 1330.5,291.9 1332.7,293.9 1334.8,296.0 1336.8,298.3 1338.7,300.6 1340.5,303.0 1342.4,305.4 1344.2,307.7 1346.1,310.0 1348.0,312.4 1349.9,314.7 1351.7,317.1 1353.4,319.6 1355.2,322.0 1356.9,324.5 1358.6,326.9 1360.4,329.3 1362.3,331.7 1364.3,333.9 1366.3,336.2 1368.3,338.4 1370.4,340.5 1372.7,342.4 1375.1,344.0 1377.8,345.4 1380.6,346.4 1383.5,347.3 1386.4,347.9 1389.3,348.3 1392.2,348.3 1395.2,347.9 1398.1,347.3 1400.9,346.4 1403.7,345.2 1406.3,343.8 1408.9,342.3 1411.5,340.8 1414.1,339.4 1416.8,338.1 1419.5,336.7 1422.1,335.3 1424.7,333.8 1427.3,332.2 1429.9,330.7 1432.5,329.2 1435.1,327.8 1437.8,326.4"/>
<path stroke="#007D00" d="M841.5,531.2 844.5,531.2 847.5,531.2 850.5,531.2 853.5,531.2 856.5,531.2 859.5,531.2 862.5,531.2 865.5,531.2 868.5,531.1 871.5,531.1 874.5,531.1 877.5,531.1 880.5,531.1 883.5,531.1 886.5,531.1 889.5,531.1 892.6,531.1 895.6,531.1 898.6,531.1 901.6,531.1 904.6,531.1 907.6,531.1 910.6,531.1 913.6,531.1 916.6,531.0 919.6,531.0 922.6,531.0 925.6,531.0 928.6,531.0 931.6,531.0 934.6,531.0 937.6,531.0 940.6,531.0 943.6,531.0 946.6,531.0 949.6,531.0 952.6,531.0 955.6,531.0 958.6,531.0 961.6,531.0 964.6,530.9 967.6,530.9 970.6,530.9 973.6,530.9 976.6,530.9 979.6,530.9 982.6,530.9 985.6,530.9 988.7,530.9 991.7,530.9 994.7,530.9 997.7,530.9 1000.7,530.9 1003.7,530.9 1006.7,530.9 1009.7,530.9 1012.7,530.8 1015.7,530.8 1018.7,530.8 1021.7,530.8 1024.7,530.8 1027.7,530.7 1030.6,530.3 1033.3,529.4 1035.9,528.0 1038.1,526.1 1040.1,523.9 1041.8,521.5 1043.2,518.9 1044.5,516.2 1045.6,513.4 1046.7,510.6 1047.7,507.8 1048.5,504.9 1049.4,502.0 1050.2,499.1 1050.9,496.2 1051.6,493.3 1052.2,490.4 1052.8,487.4 1053.3,484.5 1053.8,481.5 1054.4,478.5 1054.9,475.6 1055.4,472.6 1055.9,469.7 1056.4,466.7 1056.9,463.7 1057.4,460.8 1057.9,457.8 1058.3,454.9 1058.8,451.9 1059.3,448.9 1059.8,446.0 1060.3,443.0 1060.7,440.0 1061.1,437.1 1061.5,434.1 1061.9,431.1 1062.3,428.1 1062.7,425.1 1063.2,422.2 1063.6,419.2 1064.0,416.2 1064.4,413.2 1064.8,410.3 1065.2,407.3 1065.6,404.3 1066.0,401.3 1066.4,398.4 1066.8,395.4 1067.1,392.4 1067.5,389.4 1067.9,386.4 1068.3,383.5 1068.6,380.5 1069.0,377.5 1069.3,374.5 1069.5,371.5 1069.7,368.5 1069.8,365.5 1070.0,362.5 1070.2,359.5 1070.3,356.5 1070.5,353.5 1070.6,350.5 1070.8,347.5 1071.0,344.5 1071.2,341.5 1071.4,338.6 1071.7,335.6 1072.0,332.6 1072.3,329.6 1072.6,326.6 1072.9,323.6 1073.3,320.6 1073.6,317.6 1073.9,314.7 1074.2,311.7 1074.5,308.7 1074.8,305.7 1075.1,302.7 1075.5,299.7 1075.9,296.8 1076.3,293.8 1076.7,290.8 1077.1,287.8 1077.5,284.9 1077.9,281.9 1078.3,278.9 1078.7,275.9 1079.1,272.9 1079.5,270.0 1079.8,267.0 1080.2,264.0 1080.5,261.0 1080.9,258.0 1081.2,255.0 1081.6,252.1 1081.9,249.1 1082.3,246.1 1082.6,243.1 1083.0,240.1 1083.3,237.2 1083.7,234.2 1084.1,231.2 1084.5,228.2 1084.8,225.2 1085.2,222.3 1085.6,219.3 1086.0,216.3 1086.4,213.3 1086.8,210.4 1087.2,207.4 1087.6,204.4 1088.0,201.4 1088.4,198.5 1088.9,195.5 1089.5,192.5 1090.1,189.6 1090.7,186.7 1091.3,183.7 1091.9,180.8 1092.7,177.9 1093.6,175.0 1094.6,172.2 1095.8,169.5 1097.4,167.2 1099.4,165.4 1101.7,164.7 1104.0,165.3 1106.0,167.0 1107.6,169.4 1108.9,172.0 1110.0,174.8 1111.1,177.6 1112.1,180.5 1113.0,183.3 1114.0,186.2 1114.9,189.0 1115.8,191.9 1116.7,194.8 1117.6,197.6 1118.4,200.5 1119.2,203.4 1120.0,206.3 1120.8,209.2 1121.6,212.1 1122.4,215.0 1123.3,217.9 1124.1,220.7 1125.0,223.6 1125.8,226.5 1126.7,229.4 1127.5,232.2 1128.4,235.1 1129.2,238.0 1130.1,240.9 1131.0,243.8 1131.8,246.6 1132.7,249.5 1133.6,252.4 1134.5,255.2 1135.4,258.1 1136.4,260.9 1137.3,263.8 1138.3,266.6 1139.2,269.5 1140.1,272.4 1141.0,275.2 1141.8,278.1 1142.7,281.0 1143.6,283.9 1144.4,286.8 1145.2,289.6 1146.0,292.5 1146.9,295.4 1147.7,298.3 1148.5,301.2 1149.3,304.1 1150.2,307.0 1151.0,309.9 1151.8,312.7 1152.6,315.6 1153.5,318.5 1154.3,321.4 1155.1,324.3 1156.0,327.2 1156.9,330.0 1158.1,332.7 1159.4,335.4 1160.7,338.1 1162.1,340.8 1163.3,343.5 1164.6,346.3 1165.9,349.0 1167.1,351.7 1168.3,354.5 1169.5,357.2 1170.7,360.0 1171.9,362.7 1173.2,365.4 1174.6,368.1 1176.1,370.7 1177.7,373.2 1179.5,375.6 1181.5,377.7 1183.8,379.5 1186.4,381.1 1189.1,382.2 1191.9,382.8 1194.8,383.0 1197.7,382.5 1200.4,381.5 1202.8,379.9 1205.1,378.0 1207.2,375.9 1209.4,373.8 1211.4,371.6 1213.3,369.3 1215.2,367.0 1217.0,364.6 1218.8,362.2 1220.6,359.8 1222.4,357.4 1224.2,355.0 1226.0,352.6 1227.9,350.2 1229.8,347.9 1231.8,345.7 1234.0,343.6 1236.2,341.6 1238.5,339.8 1240.9,337.9 1243.3,336.1 1245.7,334.3 1248.1,332.5 1250.5,330.7 1252.8,328.8 1255.0,326.8 1257.2,324.7 1259.3,322.5 1261.4,320.4 1263.4,318.2 1265.4,315.9 1267.3,313.6 1269.3,311.3 1271.2,309.0 1273.1,306.7 1274.9,304.3 1276.9,302.0 1278.8,299.8 1280.9,297.6 1283.0,295.5 1285.2,293.5 1287.6,291.6 1289.9,289.8 1292.3,287.9 1294.7,286.1 1297.2,284.4 1299.7,282.9 1302.4,281.6 1305.2,280.4 1307.9,279.7 1310.7,279.6 1313.4,280.3 1316.1,281.6 1318.6,283.1 1321.1,284.7 1323.4,286.6 1325.5,288.7 1327.4,290.9 1329.3,293.3 1331.1,295.7 1332.8,298.1 1334.5,300.6 1336.0,303.2 1337.6,305.8 1339.1,308.3 1340.7,310.9 1342.4,313.3 1344.2,315.8 1345.9,318.2 1347.8,320.6 1349.6,322.9 1351.4,325.3 1353.2,327.8 1354.9,330.2 1356.7,332.7 1358.4,335.1 1360.1,337.6 1361.8,340.1 1363.5,342.6 1365.1,345.0 1367.0,347.3 1369.2,349.2 1371.6,350.9 1374.3,352.3 1377.0,353.5 1379.8,354.5 1382.7,355.0 1385.6,355.1 1388.5,354.7 1391.4,354.0 1394.2,353.0 1396.9,351.8 1399.6,350.5 1402.2,349.1 1404.6,347.3 1406.9,345.5 1409.3,343.8 1411.9,342.3 1414.5,340.9 1417.1,339.3 1419.5,337.5 1421.7,335.6 1423.9,333.5 1426.0,331.4 1428.2,329.3 1430.4,327.3 1432.8,325.5 1435.2,323.8 1437.8,322.3"/>
<path stroke="#6495ED" d="M841.5,531.2 844.5,531.2 847.5,531.2 850.5,531.2 853.5,531.2 856.5,531.2 859.5,531.2 862.5,531.2 865.5,531.1 868.5,531.1 871.5,531.1 874.5,531.1 877.5,531.1 880.5,531.1 883.5,531.1 886.5,531.1 889.5,531.1 892.5,531.1 895.5,531.1 898.5,531.1 901.5,531.1 904.5,531.1 907.5,531.1 910.6,531.1 913.6,531.0 916.6,531.0 919.6,531.0 922.6,531.0 925.6,531.0 928.6,531.0 931.6,531.0 934.6,531.0 937.6,531.0 940.6,531.0 943.6,531.0 946.6,531.0 949.6,531.0 952.6,531.0 955.6,531.0 958.6,531.0 961.6,530.9 964.6,530.9 967.6,530.9 970.6,530.9 973.6,530.9 976.6,530.9 979.6,530.9 982.6,530.9 985.6,530.9 988.6,530.9 991.6,530.9 994.6,530.9 997.6,530.9 1000.6,530.9 1003.6,530.9 1006.6,530.9 1009.6,530.8 1012.6,530.8 1015.6,530.8 1018.6,530.8 1021.6,530.8 1024.6,530.7 1027.5,530.4 1030.3,529.6 1032.9,528.3 1035.2,526.5 1037.3,524.4 1039.0,522.0 1040.5,519.4 1041.7,516.7 1042.9,513.9 1044.0,511.1 1045.0,508.3 1045.9,505.4 1046.7,502.6 1047.5,499.7 1048.3,496.8 1049.0,493.9 1049.6,490.9 1050.1,488.0 1050.7,485.0 1051.2,482.1 1051.8,479.1 1052.3,476.2 1052.8,473.2 1053.3,470.2 1053.8,467.3 1054.3,464.3 1054.8,461.3 1055.3,458.4 1055.7,455.4 1056.2,452.5 1056.7,449.5 1057.2,446.5 1057.7,443.6 1058.1,440.6 1058.5,437.6 1059.0,434.7 1059.4,431.7 1059.8,428.7 1060.2,425.7 1060.6,422.8 1061.0,419.8 1061.4,416.8 1061.8,413.8 1062.2,410.9 1062.6,407.9 1063.0,404.9 1063.4,401.9 1063.8,399.0 1064.2,396.0 1064.6,393.0 1064.9,390.0 1065.3,387.0 1065.7,384.1 1066.1,381.1 1066.4,378.1 1066.8,375.1 1067.1,372.1 1067.4,369.1 1067.6,366.2 1067.9,363.2 1068.2,360.2 1068.4,357.2 1068.7,354.2 1069.0,351.2 1069.2,348.2 1069.5,345.2 1069.8,342.2 1070.1,339.2 1070.4,336.3 1070.7,333.3 1071.0,330.3 1071.3,327.3 1071.7,324.3 1072.0,321.3 1072.3,318.3 1072.6,315.4 1072.9,312.4 1073.2,309.4 1073.5,306.4 1073.8,303.4 1074.2,300.4 1074.6,297.5 1075.0,294.5 1075.4,291.5 1075.8,288.5 1076.2,285.6 1076.6,282.6 1077.0,279.6 1077.4,276.6 1077.8,273.7 1078.2,270.7 1078.6,267.7 1079.0,264.7 1079.4,261.8 1079.8,258.8 1080.2,255.8 1080.6,252.8 1081.0,249.9 1081.4,246.9 1081.8,243.9 1082.2,240.9 1082.7,238.0 1083.1,235.0 1083.6,232.0 1084.2,229.1 1084.7,226.1 1085.3,223.2 1085.9,220.2 1086.4,217.3 1087.0,214.3 1087.6,211.4 1088.1,208.4 1088.7,205.5 1089.4,202.6 1090.1,199.7 1091.0,196.8 1091.8,193.9 1092.8,191.1 1093.8,188.3 1094.9,185.5 1096.2,182.8 1097.7,180.4 1099.7,178.5 1101.9,177.7 1104.0,178.3 1105.7,180.1 1107.2,182.6 1108.3,185.4 1109.3,188.2 1110.1,191.1 1110.9,194.0 1111.7,196.9 1112.5,199.7 1113.3,202.6 1114.1,205.5 1114.8,208.4 1115.6,211.3 1116.4,214.2 1117.1,217.2 1117.9,220.1 1118.7,223.0 1119.5,225.9 1120.2,228.8 1121.0,231.7 1121.8,234.6 1122.6,237.5 1123.3,240.4 1124.1,243.3 1124.9,246.2 1125.7,249.1 1126.4,252.0 1127.2,254.9 1128.0,257.8 1128.7,260.7 1129.4,263.6 1130.1,266.5 1130.7,269.5 1131.2,272.4 1131.9,275.3 1132.5,278.3 1133.2,281.2 1133.9,284.1 1134.6,287.0 1135.4,289.9 1136.2,292.8 1137.1,295.7 1138.1,298.5 1139.0,301.4 1140.0,304.2 1141.0,307.0 1142.1,309.9 1143.1,312.7 1144.3,315.4 1145.5,318.2 1146.8,320.9 1148.1,323.6 1149.3,326.3 1150.5,329.1 1151.6,331.9 1152.8,334.6 1153.9,337.4 1155.1,340.2 1156.3,342.9 1157.5,345.7 1158.7,348.4 1160.0,351.1 1161.4,353.8 1162.8,356.5 1164.2,359.1 1165.7,361.7 1167.2,364.3 1169.0,366.7 1170.9,369.0 1172.9,371.1 1175.2,373.1 1177.6,374.8 1180.1,376.4 1182.7,377.9 1185.4,379.1 1188.1,379.7 1190.8,379.4 1193.3,378.3 1195.5,376.4 1197.4,374.2 1199.1,371.8 1200.8,369.3 1202.7,367.0 1204.6,364.7 1206.4,362.4 1208.2,359.9 1210.0,357.5 1211.7,355.1 1213.5,352.6 1215.2,350.2 1216.9,347.7 1218.6,345.2 1220.2,342.7 1221.8,340.2 1223.6,337.8 1225.6,335.6 1227.7,333.5 1230.1,331.7 1232.6,330.2 1235.3,328.8 1238.0,327.6 1240.7,326.2 1243.3,324.8 1245.9,323.2 1248.3,321.4 1250.6,319.6 1252.9,317.6 1255.1,315.6 1257.4,313.6 1259.7,311.7 1262.0,309.8 1264.2,307.8 1266.4,305.8 1268.7,303.9 1271.2,302.1 1273.7,300.6 1276.3,299.1 1279.0,297.8 1281.7,296.6 1284.5,295.5 1287.4,294.7 1290.3,294.1 1293.3,293.6 1296.3,293.3 1299.2,293.1 1302.2,293.3 1305.0,294.0 1307.9,294.9 1310.6,296.1 1313.2,297.5 1315.6,299.2 1317.9,301.2 1320.0,303.3 1322.1,305.4 1324.2,307.5 1326.5,309.4 1328.9,311.3 1331.2,313.1 1333.6,315.0 1335.9,316.9 1338.3,318.7 1340.7,320.5 1343.1,322.3 1345.5,324.1 1347.9,325.9 1350.3,327.7 1352.8,329.5 1355.2,331.2 1357.6,332.9 1360.2,334.3 1362.9,335.6 1365.6,337.0 1368.2,338.4 1370.9,339.7 1373.6,340.9 1376.4,341.9 1379.3,342.5 1382.3,342.7 1385.2,342.5 1388.1,342.0 1391.0,341.1 1393.8,340.2 1396.7,339.2 1399.5,338.3 1402.4,337.4 1405.3,336.5 1408.1,335.5 1410.9,334.4 1413.6,333.2 1416.4,332.0 1419.1,330.8 1422.0,329.8 1424.8,328.9 1427.7,328.0 1430.6,327.2 1433.4,326.3 1436.3,325.6 1437.8,325.3"/>
<path stroke="#602C98" d="M841.5,531.2 844.5,531.2 847.5,531.2 850.5,531.2 853.5,531.2 856.5,531.2 859.5,531.2 862.5,531.2 865.5,531.2 868.5,531.1 871.5,531.1 874.5,531.1 877.5,531.1 880.5,531.1 883.5,531.1 886.5,531.1 889.5,531.1 892.5,531.1 895.5,531.1 898.5,531.1 901.5,531.1 904.5,531.1 907.5,531.1 910.5,531.1 913.5,531.1 916.5,531.0 919.6,531.0 922.6,531.0 925.6,531.0 928.6,531.0 931.6,531.0 934.6,531.0 937.6,531.0 940.6,531.0 943.6,531.0 946.6,531.0 949.6,531.0 952.6,531.0 955.6,531.0 958.6,531.0 961.6,531.0 964.6,530.9 967.6,530.9 970.6,530.9 973.6,530.9 976.6,530.9 979.6,530.9 982.6,530.9 985.6,530.9 988.6,530.9 991.6,530.9 994.6,530.9 997.6,530.9 1000.6,530.9 1003.6,530.9 1006.6,530.9 1009.6,530.9 1012.6,530.8 1015.6,530.8 1018.6,530.8 1021.6,530.8 1024.6,530.8 1027.6,530.7 1030.4,530.2 1033.1,529.2 1035.6,527.6 1037.7,525.6 1039.6,523.3 1041.2,520.8 1042.5,518.1 1043.6,515.4 1044.6,512.6 1045.7,509.7 1046.6,506.9 1047.5,504.0 1048.4,501.2 1049.3,498.3 1050.1,495.4 1050.8,492.5 1051.3,489.6 1051.9,486.6 1052.5,483.7 1053.0,480.7 1053.5,477.7 1054.0,474.8 1054.5,471.8 1055.0,468.9 1055.5,465.9 1056.0,462.9 1056.5,460.0 1057.0,457.0 1057.5,454.1 1058.0,451.1 1058.5,448.1 1058.9,445.2 1059.4,442.2 1059.8,439.2 1060.2,436.3 1060.6,433.3 1061.0,430.3 1061.5,427.3 1061.9,424.4 1062.3,421.4 1062.7,418.4 1063.1,415.4 1063.5,412.5 1063.9,409.5 1064.3,406.5 1064.7,403.5 1065.1,400.6 1065.5,397.6 1065.9,394.6 1066.2,391.6 1066.6,388.7 1067.0,385.7 1067.4,382.7 1067.7,379.7 1068.1,376.7 1068.5,373.8 1068.8,370.8 1069.2,367.8 1069.5,364.8 1069.9,361.8 1070.2,358.8 1070.6,355.9 1070.9,352.9 1071.3,349.9 1071.6,346.9 1071.9,343.9 1072.3,341.0 1072.6,338.0 1072.9,335.0 1073.3,332.0 1073.6,329.0 1073.9,326.0 1074.3,323.1 1074.6,320.1 1075.0,317.1 1075.4,314.1 1075.8,311.1 1076.2,308.2 1076.6,305.2 1077.0,302.2 1077.4,299.2 1077.8,296.3 1078.2,293.3 1078.6,290.3 1079.0,287.3 1079.4,284.4 1079.8,281.4 1080.2,278.4 1080.6,275.4 1081.0,272.5 1081.4,269.5 1081.8,266.5 1082.2,263.5 1082.6,260.6 1083.0,257.6 1083.4,254.6 1083.8,251.6 1084.3,248.7 1084.9,245.7 1085.5,242.8 1086.1,239.9 1086.7,236.9 1087.3,234.0 1088.0,231.1 1088.6,228.1 1089.2,225.2 1089.9,222.3 1090.7,219.4 1091.5,216.5 1092.5,213.7 1093.6,210.9 1094.9,208.3 1096.6,206.3 1098.9,205.3 1101.5,205.4 1104.2,206.3 1106.6,207.8 1108.7,209.8 1110.7,212.1 1112.4,214.5 1114.0,217.1 1115.5,219.7 1116.9,222.3 1118.2,225.0 1119.4,227.8 1120.6,230.5 1121.7,233.3 1122.8,236.1 1123.8,238.9 1124.9,241.7 1125.9,244.5 1127.0,247.4 1128.0,250.2 1129.1,252.9 1130.2,255.7 1131.3,258.6 1132.3,261.4 1133.3,264.2 1134.2,267.1 1135.1,269.9 1136.0,272.8 1136.8,275.7 1137.6,278.6 1138.4,281.5 1139.2,284.4 1140.1,287.2 1141.2,290.0 1142.4,292.8 1143.5,295.6 1144.5,298.4 1145.3,301.3 1146.1,304.1 1146.9,307.0 1147.8,309.9 1148.6,312.8 1149.5,315.7 1150.4,318.5 1151.4,321.4 1152.4,324.2 1153.5,327.0 1154.7,329.7 1156.1,332.4 1157.5,335.0 1158.9,337.6 1160.2,340.3 1161.5,343.0 1162.8,345.8 1164.0,348.5 1165.3,351.2 1166.5,353.9 1167.8,356.7 1169.0,359.4 1170.3,362.1 1171.6,364.8 1172.8,367.6 1174.2,370.2 1175.7,372.8 1177.6,375.1 1179.7,377.2 1181.9,379.1 1184.3,380.9 1186.9,382.3 1189.6,383.2 1192.4,383.5 1195.1,382.9 1197.7,381.6 1200.2,380.0 1202.6,378.2 1204.9,376.3 1207.2,374.3 1209.3,372.2 1211.3,370.0 1213.3,367.7 1215.1,365.3 1216.9,362.9 1218.6,360.4 1220.2,357.9 1221.9,355.5 1223.6,353.0 1225.2,350.4 1226.7,347.9 1228.0,345.2 1229.2,342.5 1230.5,339.8 1232.2,337.4 1234.0,335.1 1236.0,332.8 1238.0,330.5 1239.9,328.3 1241.9,326.0 1244.0,323.8 1246.1,321.8 1248.4,319.9 1250.9,318.2 1253.5,316.7 1256.2,315.5 1258.9,314.3 1261.6,313.0 1264.2,311.6 1266.8,310.1 1269.4,308.6 1272.0,307.1 1274.7,305.7 1277.4,304.6 1280.2,303.5 1282.9,302.3 1285.5,300.9 1288.0,299.3 1290.5,297.6 1293.0,296.0 1295.6,294.6 1298.4,293.8 1301.3,293.4 1304.3,293.4 1307.2,293.7 1310.2,294.2 1313.0,295.0 1315.6,296.3 1318.1,297.9 1320.3,299.9 1322.4,302.0 1324.5,304.1 1326.8,306.0 1329.1,307.9 1331.3,309.8 1333.5,311.8 1335.5,314.0 1337.6,316.2 1339.7,318.3 1341.9,320.3 1344.1,322.3 1346.3,324.4 1348.6,326.3 1351.0,328.2 1353.3,330.0 1355.6,331.9 1358.0,333.8 1360.5,335.4 1363.1,336.9 1365.7,338.2 1368.4,339.5 1371.2,340.7 1374.0,341.5 1376.9,341.9 1379.9,341.9 1382.8,341.7 1385.8,341.5 1388.8,341.1 1391.7,340.4 1394.6,339.6 1397.4,338.7 1400.2,337.6 1403.0,336.5 1405.8,335.5 1408.6,334.7 1411.5,333.8 1414.4,332.9 1417.2,332.0 1420.1,331.0 1423.0,330.3 1425.9,329.7 1428.8,329.2 1431.8,329.0 1434.8,328.8 1437.8,328.6"/>
</g>
<rect x="841.5" y="25.8" width="594.9" height="525.8" fill="none" stroke="#000" stroke-width="2.3"/>
<g stroke="#000" stroke-width="2.3"><line x1="841.5" y1="551.6" x2="841.5" y2="555.9"/><line x1="915.86" y1="551.6" x2="915.86" y2="555.9"/><line x1="990.23" y1="551.6" x2="990.23" y2="555.9"/><line x1="1064.59" y1="551.6" x2="1064.59" y2="555.9"/><line x1="1138.95" y1="551.6" x2="1138.95" y2="555.9"/><line x1="1213.31" y1="551.6" x2="1213.31" y2="555.9"/><line x1="1287.68" y1="551.6" x2="1287.68" y2="555.9"/><line x1="1362.04" y1="551.6" x2="1362.04" y2="555.9"/><line x1="1436.4" y1="551.6" x2="1436.4" y2="555.9"/><line x1="837.2" y1="531.38" x2="841.5" y2="531.38"/><line x1="837.2" y1="430.26" x2="841.5" y2="430.26"/><line x1="837.2" y1="329.15" x2="841.5" y2="329.15"/><line x1="837.2" y1="228.03" x2="841.5" y2="228.03"/><line x1="837.2" y1="126.92" x2="841.5" y2="126.92"/><line x1="837.2" y1="25.8" x2="841.5" y2="25.8"/></g>
<rect x="1238.5" y="35.5" width="186.4" height="161.5" rx="5" ry="5" fill="#fff" fill-opacity="0.8" stroke="#d4d4d4" stroke-width="1.6"/>
<line x1="1247.2" y1="56.5" x2="1303.1" y2="56.5" stroke="#FFD400" stroke-width="3.7"/>
<line x1="1247.2" y1="95.1" x2="1303.1" y2="95.1" stroke="#007D00" stroke-width="3.7"/>
<line x1="1247.2" y1="133.4" x2="1303.1" y2="133.4" stroke="#6495ED" stroke-width="3.7"/>
<line x1="1247.2" y1="172" x2="1303.1" y2="172" stroke="#602C98" stroke-width="3.7"/>
<g stroke="#e6e6e6" stroke-width="1.6" stroke-dasharray="4.2 1.5"><line x1="74.9" y1="652.4" x2="74.9" y2="1178.2"/><line x1="149.23" y1="652.4" x2="149.23" y2="1178.2"/><line x1="223.55" y1="652.4" x2="223.55" y2="1178.2"/><line x1="297.88" y1="652.4" x2="297.88" y2="1178.2"/><line x1="372.2" y1="652.4" x2="372.2" y2="1178.2"/><line x1="446.52" y1="652.4" x2="446.52" y2="1178.2"/><line x1="520.85" y1="652.4" x2="520.85" y2="1178.2"/><line x1="595.17" y1="652.4" x2="595.17" y2="1178.2"/><line x1="669.5" y1="652.4" x2="669.5" y2="1178.2"/><line x1="74.9" y1="1157.98" x2="669.5" y2="1157.98"/><line x1="74.9" y1="1056.86" x2="669.5" y2="1056.86"/><line x1="74.9" y1="955.75" x2="669.5" y2="955.75"/><line x1="74.9" y1="854.63" x2="669.5" y2="854.63"/><line x1="74.9" y1="753.52" x2="669.5" y2="753.52"/><line x1="74.9" y1="652.4" x2="669.5" y2="652.4"/></g>
<g fill="none" stroke-width="2.75" stroke-linejoin="round" stroke-linecap="butt" clip-path="url(#clipc)">
<path stroke="#602C98" d="M74.9,1157.9 77.9,1157.9 80.9,1157.9 83.9,1157.9 86.9,1157.9 89.9,1157.9 92.9,1157.9 95.9,1157.9 98.9,1157.9 101.9,1157.9 104.9,1157.9 107.9,1157.9 110.9,1157.9 113.9,1157.9 116.9,1157.9 119.9,1157.9 122.9,1157.9 125.9,1157.9 128.9,1157.9 131.9,1157.9 134.9,1157.9 137.9,1157.9 140.9,1157.9 143.9,1157.9 146.9,1157.9 150.0,1157.9 153.0,1157.9 156.0,1157.9 159.0,1157.9 162.0,1157.9 165.0,1157.9 168.0,1157.9 171.0,1157.9 174.0,1157.9 177.0,1157.9 180.0,1157.9 183.0,1157.9 186.0,1157.9 189.0,1157.9 192.0,1157.9 195.0,1157.9 198.0,1157.9 201.0,1157.9 204.0,1157.9 207.0,1157.9 210.0,1157.9 213.0,1157.9 216.0,1157.9 219.0,1157.9 222.0,1157.9 225.0,1157.9 228.0,1157.9 231.0,1157.9 234.0,1157.9 237.0,1157.9 240.0,1157.9 243.0,1157.9 246.0,1157.9 249.0,1157.8 252.0,1157.7 254.9,1157.4 257.6,1156.5 260.0,1155.0 261.9,1152.9 263.4,1150.4 264.6,1147.7 265.6,1144.8 266.5,1142.0 267.4,1139.1 268.2,1136.2 268.9,1133.3 269.6,1130.4 270.3,1127.5 271.0,1124.5 271.6,1121.6 272.2,1118.7 272.7,1115.7 273.3,1112.8 273.8,1109.8 274.2,1106.8 274.7,1103.9 275.2,1100.9 275.6,1097.9 276.1,1095.0 276.5,1092.0 277.0,1089.0 277.4,1086.1 277.8,1083.1 278.2,1080.1 278.6,1077.1 279.0,1074.2 279.4,1071.2 279.8,1068.2 280.2,1065.2 280.6,1062.3 280.9,1059.3 281.3,1056.3 281.7,1053.3 282.0,1050.3 282.4,1047.4 282.7,1044.4 283.0,1041.4 283.4,1038.4 283.7,1035.4 284.0,1032.4 284.3,1029.4 284.6,1026.5 284.9,1023.5 285.2,1020.5 285.5,1017.5 285.8,1014.5 286.1,1011.5 286.4,1008.5 286.7,1005.6 287.0,1002.6 287.3,999.6 287.5,996.6 287.8,993.6 288.0,990.6 288.2,987.6 288.5,984.6 288.7,981.6 289.0,978.6 289.2,975.6 289.4,972.6 289.7,969.7 289.9,966.7 290.2,963.7 290.4,960.7 290.7,957.7 290.9,954.7 291.2,951.7 291.4,948.7 291.7,945.7 292.0,942.7 292.2,939.7 292.5,936.7 292.7,933.8 293.0,930.8 293.3,927.8 293.5,924.8 293.8,921.8 294.0,918.8 294.3,915.8 294.6,912.8 294.8,909.8 295.1,906.8 295.3,903.9 295.6,900.9 295.9,897.9 296.1,894.9 296.4,891.9 296.6,888.9 296.9,885.9 297.2,882.9 297.4,879.9 297.7,876.9 297.9,873.9 298.2,871.0 298.5,868.0 298.7,865.0 299.0,862.0 299.2,859.0 299.5,856.0 299.8,853.0 300.0,850.0 300.3,847.0 300.6,844.0 300.8,841.0 301.1,838.1 301.4,835.1 301.7,832.1 301.9,829.1 302.2,826.1 302.5,823.1 302.7,820.1 303.0,817.1 303.3,814.1 303.5,811.1 303.8,808.2 304.0,805.2 304.3,802.2 304.6,799.2 304.8,796.2 305.1,793.2 305.4,790.2 305.6,787.2 305.9,784.2 306.2,781.3 306.5,778.3 306.8,775.3 307.1,772.3 307.4,769.3 307.7,766.3 308.0,763.3 308.3,760.3 308.7,757.4 309.0,754.4 309.3,751.4 309.6,748.4 310.0,745.4 310.3,742.4 310.7,739.5 311.0,736.5 311.5,733.5 312.0,730.6 312.5,727.6 313.0,724.6 313.5,721.7 314.0,718.7 314.6,715.8 315.4,712.9 316.3,710.1 317.4,707.4 318.9,705.1 320.7,703.8 322.7,703.9 324.6,705.4 326.2,707.7 327.6,710.4 328.7,713.1 329.8,715.9 330.9,718.7 331.8,721.6 332.6,724.4 333.4,727.3 334.2,730.2 335.0,733.1 335.7,736.0 336.5,738.9 337.3,741.8 338.0,744.8 338.7,747.7 339.5,750.6 340.2,753.5 340.9,756.4 341.6,759.3 342.4,762.2 343.1,765.2 343.8,768.1 344.4,771.0 345.1,773.9 345.8,776.8 346.5,779.8 347.2,782.7 347.9,785.6 348.5,788.5 349.2,791.5 349.8,794.4 350.5,797.3 351.1,800.3 351.8,803.2 352.4,806.1 353.1,809.0 353.8,812.0 354.4,814.9 355.1,817.8 355.8,820.8 356.4,823.7 357.1,826.6 357.7,829.6 358.2,832.5 358.7,835.5 359.1,838.4 359.6,841.4 360.1,844.4 360.6,847.3 361.1,850.3 361.8,853.2 362.5,856.1 363.2,859.0 364.0,861.9 364.8,864.8 365.6,867.7 366.5,870.6 367.5,873.4 368.4,876.3 369.4,879.1 370.4,881.9 371.5,884.7 372.6,887.5 373.7,890.3 374.8,893.1 375.7,896.0 376.6,898.8 377.5,901.7 378.4,904.6 379.2,907.4 380.1,910.3 381.0,913.2 381.8,916.1 382.8,918.9 383.9,921.7 385.0,924.5 386.3,927.2 387.5,929.9 388.9,932.6 390.3,935.2 391.7,937.9 393.2,940.5 394.7,943.1 396.1,945.7 397.6,948.3 399.1,951.0 400.5,953.6 401.8,956.3 403.2,959.0 404.6,961.6 406.0,964.3 407.5,966.9 409.1,969.4 410.7,971.9 412.5,974.3 414.5,976.6 416.4,978.9 418.5,981.0 420.7,983.0 423.0,984.9 425.3,986.8 427.7,988.7 430.1,990.5 432.5,992.0 435.2,992.9 438.0,993.0 440.6,992.3 443.1,991.0 445.6,989.4 448.1,987.8 450.5,986.0 452.8,984.1 455.1,982.2 457.5,980.4 459.9,978.6 462.2,976.7 464.3,974.7 466.4,972.5 468.5,970.4 470.8,968.6 473.3,967.1 476.1,966.1 479.0,965.3 481.9,964.9 484.9,964.7 487.8,964.6 490.7,964.2 493.4,963.5 496.1,963.0 498.8,963.2 501.5,964.1 504.2,965.2 507.0,966.3 509.8,967.4 512.6,968.5 515.4,969.5 518.2,970.6 521.0,971.7 523.6,973.0 526.3,974.3 529.1,975.5 531.9,976.2 534.9,976.6 537.8,976.5 540.5,975.7 543.1,974.4 545.5,972.7 547.9,970.9 550.4,969.3 553.1,968.0 555.8,966.7 558.4,965.3 561.0,963.7 563.4,962.0 565.9,960.3 568.4,958.7 571.0,957.1 573.6,955.7 576.3,954.5 579.1,953.5 582.0,952.9 585.0,952.5 588.0,952.2 591.0,952.1 593.9,952.1 596.9,952.1 599.8,951.9 602.7,951.6 605.7,951.6 608.6,951.9 611.5,952.3 614.4,952.7 617.3,953.0 620.1,953.7 623.0,954.6 625.7,955.7 628.3,957.1 630.9,958.6 633.6,960.0 636.3,961.3 639.0,962.5 641.8,963.5 644.7,964.2 647.6,964.5 650.5,964.3 653.5,964.0 656.5,963.7 659.4,963.7 662.4,963.8 665.4,964.0 668.4,964.2"/>
<path stroke="#6495ED" d="M74.9,1157.9 77.9,1157.9 80.9,1157.9 83.9,1157.9 86.9,1157.9 89.9,1157.9 92.9,1157.9 95.9,1157.9 98.9,1157.9 101.9,1157.9 104.9,1157.9 107.9,1157.9 110.9,1157.9 113.9,1157.9 116.9,1157.9 119.9,1157.9 122.9,1157.9 125.9,1157.9 128.9,1157.9 131.9,1157.9 134.9,1157.9 137.9,1157.9 140.9,1157.9 143.9,1157.9 146.9,1157.9 149.9,1157.9 152.9,1157.9 155.9,1157.9 158.9,1157.9 161.9,1157.9 164.9,1157.9 167.9,1157.9 170.9,1157.9 173.9,1157.9 176.9,1157.9 179.9,1157.9 182.9,1157.9 185.9,1157.9 188.9,1157.9 191.9,1157.9 194.9,1157.9 197.9,1157.9 200.9,1157.9 203.9,1157.9 206.9,1157.9 209.9,1157.9 212.9,1157.9 215.9,1157.9 218.9,1157.9 221.9,1157.9 224.9,1157.9 227.9,1157.9 230.9,1157.9 233.9,1157.9 236.9,1157.9 239.9,1157.9 242.9,1157.9 245.9,1157.8 248.9,1157.7 251.8,1157.4 254.5,1156.5 256.7,1154.9 258.4,1152.7 259.8,1150.1 260.9,1147.3 261.9,1144.5 262.7,1141.6 263.4,1138.7 264.1,1135.8 264.7,1132.8 265.3,1129.9 265.9,1126.9 266.4,1124.0 266.9,1121.0 267.4,1118.1 267.9,1115.1 268.4,1112.1 268.8,1109.2 269.3,1106.2 269.7,1103.2 270.2,1100.3 270.6,1097.3 271.1,1094.3 271.5,1091.4 272.0,1088.4 272.4,1085.4 272.9,1082.5 273.3,1079.5 273.8,1076.5 274.2,1073.6 274.6,1070.6 274.9,1067.6 275.3,1064.6 275.7,1061.7 276.0,1058.7 276.4,1055.7 276.7,1052.7 277.1,1049.7 277.4,1046.8 277.7,1043.8 278.0,1040.8 278.3,1037.8 278.7,1034.8 279.0,1031.8 279.3,1028.9 279.6,1025.9 279.9,1022.9 280.2,1019.9 280.5,1016.9 280.8,1013.9 281.1,1010.9 281.3,1007.9 281.6,1005.0 281.8,1002.0 282.0,999.0 282.2,996.0 282.4,993.0 282.6,990.0 282.8,987.0 283.0,984.0 283.2,981.0 283.4,978.0 283.6,975.0 283.8,972.0 284.0,969.0 284.3,966.0 284.5,963.0 284.7,960.1 284.9,957.1 285.1,954.1 285.3,951.1 285.5,948.1 285.7,945.1 285.9,942.1 286.1,939.1 286.3,936.1 286.5,933.1 286.7,930.1 286.9,927.1 287.1,924.1 287.4,921.1 287.6,918.1 287.8,915.1 288.0,912.2 288.2,909.2 288.4,906.2 288.6,903.2 288.8,900.2 289.0,897.2 289.2,894.2 289.4,891.2 289.6,888.2 289.8,885.2 290.0,882.2 290.2,879.2 290.4,876.2 290.7,873.2 290.9,870.2 291.1,867.2 291.3,864.3 291.5,861.3 291.7,858.3 291.9,855.3 292.1,852.3 292.3,849.3 292.6,846.3 292.8,843.3 293.1,840.3 293.4,837.3 293.6,834.3 293.9,831.3 294.1,828.4 294.4,825.4 294.6,822.4 294.9,819.4 295.2,816.4 295.4,813.4 295.8,810.4 296.1,807.4 296.5,804.5 296.8,801.5 297.2,798.5 297.5,795.5 297.9,792.5 298.2,789.6 298.6,786.6 299.0,783.6 299.3,780.6 299.7,777.7 300.0,774.7 300.3,771.7 300.6,768.7 300.9,765.7 301.2,762.7 301.5,759.7 301.8,756.8 302.1,753.8 302.4,750.8 302.7,747.8 303.0,744.8 303.3,741.8 303.6,738.8 304.0,735.9 304.4,732.9 304.9,729.9 305.5,727.0 306.1,724.1 306.7,721.1 307.2,718.2 307.8,715.2 308.5,712.3 309.2,709.5 310.5,707.0 312.3,705.3 314.4,704.8 316.7,705.6 318.7,707.4 320.3,709.7 321.6,712.4 322.7,715.2 323.7,718.0 324.7,720.8 325.6,723.7 326.4,726.6 327.1,729.5 327.9,732.4 328.7,735.3 329.5,738.2 330.2,741.1 331.0,744.0 331.7,746.9 332.4,749.8 333.1,752.7 333.9,755.6 334.6,758.5 335.3,761.4 336.0,764.4 336.7,767.3 337.4,770.2 338.1,773.1 338.8,776.0 339.5,779.0 340.1,781.9 340.8,784.8 341.5,787.7 342.2,790.7 342.8,793.6 343.5,796.5 344.1,799.4 344.8,802.4 345.4,805.3 346.0,808.2 346.5,811.2 346.9,814.2 347.3,817.1 347.6,820.1 347.9,823.1 348.2,826.1 348.5,829.1 348.8,832.1 349.1,835.1 349.4,838.0 349.7,841.0 350.0,844.0 350.4,847.0 350.8,850.0 351.3,852.9 351.9,855.8 352.5,858.8 353.2,861.7 353.8,864.6 354.6,867.5 355.4,870.4 356.4,873.2 357.4,876.1 358.4,878.9 359.4,881.7 360.3,884.6 361.2,887.5 362.0,890.3 362.9,893.2 363.7,896.1 364.6,899.0 365.5,901.8 366.4,904.7 367.3,907.5 368.3,910.4 369.3,913.2 370.4,916.0 371.5,918.8 372.6,921.6 373.7,924.4 374.9,927.1 376.1,929.9 377.3,932.6 378.6,935.3 380.0,938.0 381.4,940.6 382.8,943.3 384.3,945.9 385.8,948.5 387.4,951.0 388.9,953.6 390.5,956.1 392.0,958.7 393.5,961.3 395.0,963.9 396.5,966.6 397.9,969.2 399.4,971.8 400.9,974.4 402.5,977.0 404.1,979.5 405.9,981.8 407.8,984.1 410.0,986.2 412.2,988.2 414.5,990.0 416.9,991.5 419.4,992.2 422.2,992.2 425.1,991.8 428.1,991.3 431.0,990.7 433.9,990.0 436.8,989.1 439.6,988.1 442.4,987.2 445.3,986.3 448.2,985.6 451.1,984.8 453.9,984.0 456.8,983.0 459.6,982.0 462.4,981.0 465.3,980.0 468.1,979.2 471.0,978.4 473.9,977.7 476.8,977.2 479.6,976.5 482.4,975.6 485.2,974.6 488.0,973.5 490.8,972.5 493.7,971.8 496.6,971.4 499.5,971.2 502.4,970.9 505.2,970.1 507.9,968.9 510.6,967.6 513.2,966.2 515.9,964.8 518.6,963.4 521.1,961.9 523.5,960.1 525.8,958.2 528.0,956.1 530.2,954.1 532.4,952.1 534.7,950.2 537.1,948.4 539.5,946.6 542.0,945.0 544.6,943.8 547.4,943.2 550.2,943.2 553.2,943.6 556.1,944.0 559.1,944.3 562.0,944.8 564.9,945.6 567.7,946.6 570.5,947.7 573.2,949.0 576.0,950.2 578.7,951.4 581.5,952.5 584.3,953.5 587.1,954.5 590.0,955.5 592.8,956.5 595.6,957.5 598.5,958.5 601.3,959.5 604.2,960.3 607.1,961.1 610.0,961.9 612.9,962.6 615.8,963.4 618.6,964.3 621.5,965.1 624.4,965.9 627.3,966.7 630.2,967.3 633.1,967.6 636.1,967.6 639.1,967.5 642.1,967.3 645.1,967.2 648.0,967.0 651.0,966.6 653.9,965.9 656.8,965.2 659.7,964.4 662.6,963.5 665.5,962.8 668.4,962.2"/>
<path stroke="#007D00" d="M74.9,1157.9 77.9,1157.9 80.9,1157.9 83.9,1157.9 86.9,1157.9 89.9,1157.9 92.9,1157.9 95.9,1157.9 98.9,1157.9 101.9,1157.9 104.9,1157.9 107.9,1157.9 110.9,1157.9 113.9,1157.9 116.9,1157.9 119.9,1157.9 122.9,1157.9 125.9,1157.9 128.9,1157.9 131.9,1157.9 134.9,1157.9 137.9,1157.9 141.0,1157.9 144.0,1157.9 147.0,1157.9 150.0,1157.9 153.0,1157.9 156.0,1157.9 159.0,1157.9 162.0,1157.9 165.0,1157.9 168.0,1157.9 171.0,1157.9 174.0,1157.9 177.0,1157.9 180.0,1157.9 183.0,1157.9 186.0,1157.9 189.0,1157.9 192.0,1157.9 195.0,1157.9 198.0,1157.9 201.0,1157.9 204.0,1157.9 207.0,1157.9 210.0,1157.9 213.0,1157.9 216.0,1157.9 219.0,1157.9 222.0,1157.9 225.0,1157.9 228.0,1157.9 231.0,1157.9 234.0,1157.9 237.0,1157.9 240.0,1157.9 243.0,1157.8 246.0,1157.7 248.9,1157.4 251.6,1156.5 253.8,1154.9 255.6,1152.7 256.9,1150.1 258.0,1147.3 258.9,1144.5 259.8,1141.6 260.5,1138.7 261.2,1135.7 261.9,1132.8 262.5,1129.9 263.1,1126.9 263.7,1124.0 264.2,1121.0 264.7,1118.1 265.1,1115.1 265.6,1112.1 266.1,1109.2 266.5,1106.2 267.0,1103.2 267.4,1100.3 267.9,1097.3 268.3,1094.3 268.7,1091.4 269.2,1088.4 269.6,1085.4 270.0,1082.4 270.4,1079.5 270.9,1076.5 271.3,1073.5 271.7,1070.6 272.0,1067.6 272.4,1064.6 272.8,1061.6 273.2,1058.6 273.5,1055.7 273.9,1052.7 274.2,1049.7 274.6,1046.7 274.9,1043.7 275.2,1040.7 275.5,1037.8 275.8,1034.8 276.1,1031.8 276.5,1028.8 276.8,1025.8 277.1,1022.8 277.4,1019.8 277.7,1016.8 278.0,1013.9 278.3,1010.9 278.6,1007.9 278.8,1004.9 279.1,1001.9 279.3,998.9 279.5,995.9 279.8,992.9 280.0,989.9 280.2,986.9 280.4,983.9 280.6,980.9 280.9,977.9 281.1,975.0 281.3,972.0 281.5,969.0 281.7,966.0 282.0,963.0 282.2,960.0 282.4,957.0 282.6,954.0 282.8,951.0 283.0,948.0 283.2,945.0 283.4,942.0 283.6,939.0 283.8,936.0 284.0,933.0 284.2,930.0 284.4,927.0 284.6,924.0 284.8,921.0 285.0,918.0 285.2,915.1 285.5,912.1 285.7,909.1 285.9,906.1 286.1,903.1 286.3,900.1 286.5,897.1 286.7,894.1 286.9,891.1 287.1,888.1 287.3,885.1 287.5,882.1 287.7,879.1 287.9,876.1 288.1,873.1 288.3,870.1 288.5,867.1 288.7,864.1 288.9,861.1 289.1,858.1 289.3,855.1 289.5,852.2 289.8,849.2 290.0,846.2 290.3,843.2 290.5,840.2 290.8,837.2 291.0,834.2 291.3,831.2 291.6,828.2 291.8,825.2 292.1,822.2 292.3,819.2 292.6,816.3 292.9,813.3 293.1,810.3 293.4,807.3 293.7,804.3 294.0,801.3 294.3,798.3 294.6,795.3 294.9,792.3 295.2,789.4 295.5,786.4 295.8,783.4 296.1,780.4 296.4,777.4 296.6,774.4 296.8,771.4 297.1,768.4 297.3,765.4 297.5,762.4 297.8,759.4 298.0,756.5 298.2,753.5 298.5,750.5 298.7,747.5 298.9,744.5 299.2,741.5 299.4,738.5 299.7,735.5 300.1,732.5 300.6,729.6 301.3,726.7 302.2,723.8 303.1,721.0 304.2,718.2 305.4,715.6 307.0,713.5 308.8,712.5 310.8,713.1 312.6,714.9 314.0,717.4 315.3,720.0 316.5,722.8 317.5,725.6 318.4,728.4 319.2,731.3 320.0,734.3 320.7,737.2 321.4,740.1 322.0,743.0 322.6,746.0 323.2,748.9 323.8,751.9 324.3,754.8 324.9,757.8 325.4,760.7 326.0,763.7 326.6,766.6 327.2,769.5 327.8,772.5 328.4,775.4 329.1,778.3 329.7,781.3 330.3,784.2 330.9,787.2 331.5,790.1 332.1,793.0 332.7,796.0 333.3,798.9 333.9,801.9 334.5,804.8 335.1,807.8 335.6,810.7 336.2,813.7 336.7,816.6 337.2,819.6 337.5,822.6 337.8,825.5 338.1,828.5 338.4,831.5 338.7,834.5 339.0,837.5 339.3,840.5 339.7,843.5 340.0,846.4 340.4,849.4 340.8,852.4 341.4,855.3 342.0,858.3 342.6,861.2 343.2,864.2 343.7,867.1 344.3,870.1 344.9,873.0 345.5,875.9 346.1,878.9 346.7,881.8 347.3,884.8 347.9,887.7 348.5,890.7 349.0,893.6 349.6,896.6 350.2,899.5 350.8,902.4 351.4,905.4 352.1,908.3 352.9,911.2 353.8,914.1 354.7,916.9 355.6,919.8 356.5,922.7 357.4,925.5 358.4,928.3 359.4,931.2 360.4,934.0 361.5,936.8 362.7,939.6 363.9,942.3 365.2,945.0 366.6,947.7 367.9,950.4 369.2,953.1 370.4,955.8 371.6,958.5 372.9,961.3 374.1,964.0 375.3,966.8 376.6,969.5 377.8,972.2 379.1,974.9 380.5,977.6 382.1,980.1 383.8,982.6 385.5,985.0 387.3,987.5 389.0,989.9 390.8,992.4 392.5,994.8 394.4,997.2 396.3,999.4 398.3,1001.5 400.7,1003.2 403.2,1004.2 405.9,1004.2 408.6,1003.4 411.1,1002.1 413.5,1000.5 415.9,998.6 418.2,996.7 420.5,994.8 422.7,992.8 424.8,990.6 426.7,988.3 428.5,985.9 430.2,983.5 431.9,981.0 433.6,978.5 435.3,976.1 437.1,973.6 438.8,971.2 440.6,968.8 442.4,966.3 444.2,963.9 446.0,961.6 447.8,959.2 449.5,956.7 451.2,954.3 453.0,951.8 454.8,949.5 456.8,947.3 459.0,945.3 461.5,943.8 464.2,942.9 467.1,942.5 470.0,942.8 472.8,943.6 475.5,944.8 478.2,946.1 480.8,947.5 483.5,948.9 486.2,950.0 489.1,950.7 492.0,951.0 494.9,950.8 497.9,950.5 500.9,950.3 503.9,950.3 506.9,950.4 509.9,950.6 512.8,950.6 515.8,950.5 518.8,950.4 521.8,950.4 524.8,950.4 527.8,950.5 530.7,950.7 533.6,951.3 536.6,951.9 539.5,952.5 542.5,952.9 545.4,953.2 548.4,953.4 551.4,953.6 554.3,954.1 557.2,954.6 560.2,955.0 563.2,955.4 566.1,955.8 569.0,956.5 571.9,957.4 574.7,958.5 577.4,959.7 580.0,961.1 582.6,962.6 585.2,964.1 587.9,965.4 590.7,966.3 593.6,966.9 596.5,967.3 599.4,967.3 602.3,967.0 605.2,966.3 608.1,965.6 611.0,964.9 613.9,964.0 616.7,963.0 619.6,962.1 622.4,961.1 625.2,960.0 627.9,958.7 630.5,957.3 633.1,955.8 635.6,954.2 638.2,952.6 640.8,951.1 643.4,949.8 646.2,948.9 649.1,948.2 652.1,947.6 655.0,947.1 658.0,946.6 660.9,946.3 663.9,946.2 666.9,946.3 668.4,946.4"/>
<path stroke="#FFD400" d="M74.9,1157.9 77.9,1157.9 80.9,1157.9 83.9,1157.9 86.9,1157.9 89.9,1157.9 92.9,1157.9 95.9,1157.9 98.9,1157.9 101.9,1157.9 104.9,1157.9 107.9,1157.9 110.9,1157.9 113.9,1157.9 116.9,1157.9 119.9,1157.9 122.9,1157.9 125.9,1157.9 128.9,1157.9 131.9,1157.9 134.9,1157.9 137.9,1157.9 140.9,1157.9 143.9,1157.9 146.9,1157.9 149.9,1157.9 152.9,1157.9 155.9,1157.9 158.9,1157.9 161.9,1157.9 164.9,1157.9 167.9,1157.9 170.9,1157.9 173.9,1157.9 176.9,1157.9 179.9,1157.9 182.9,1157.9 185.9,1157.9 188.9,1157.9 191.9,1157.9 194.9,1157.9 197.9,1157.9 200.9,1157.9 203.9,1157.9 206.9,1157.9 209.9,1157.9 212.9,1157.9 215.9,1157.9 218.9,1157.9 221.9,1157.9 224.9,1157.9 227.9,1157.9 230.9,1157.9 233.9,1157.9 236.9,1157.9 239.9,1157.8 242.9,1157.7 245.7,1157.2 248.3,1156.0 250.4,1154.2 252.0,1151.8 253.3,1149.2 254.4,1146.4 255.4,1143.6 256.3,1140.7 257.0,1137.8 257.7,1134.9 258.4,1132.0 259.0,1129.0 259.7,1126.1 260.3,1123.2 260.9,1120.2 261.5,1117.3 262.1,1114.4 262.6,1111.4 263.2,1108.5 263.8,1105.5 264.3,1102.6 264.8,1099.6 265.4,1096.7 265.9,1093.7 266.4,1090.8 266.9,1087.8 267.4,1084.8 267.8,1081.9 268.3,1078.9 268.7,1075.9 269.2,1073.0 269.6,1070.0 270.0,1067.0 270.4,1064.1 270.8,1061.1 271.2,1058.1 271.5,1055.1 271.9,1052.1 272.3,1049.2 272.6,1046.2 272.9,1043.2 273.2,1040.2 273.6,1037.2 273.9,1034.3 274.2,1031.3 274.5,1028.3 274.8,1025.3 275.1,1022.3 275.4,1019.3 275.7,1016.3 276.0,1013.4 276.3,1010.4 276.6,1007.4 276.9,1004.4 277.2,1001.4 277.4,998.4 277.6,995.4 277.8,992.4 277.9,989.4 278.1,986.4 278.3,983.5 278.5,980.5 278.7,977.5 278.8,974.5 279.0,971.5 279.2,968.5 279.4,965.5 279.6,962.5 279.8,959.5 280.0,956.5 280.2,953.5 280.4,950.5 280.6,947.5 280.8,944.5 281.1,941.5 281.3,938.5 281.5,935.6 281.7,932.6 281.9,929.6 282.2,926.6 282.4,923.6 282.6,920.6 282.8,917.6 283.0,914.6 283.2,911.6 283.5,908.6 283.7,905.6 283.9,902.6 284.1,899.6 284.3,896.7 284.6,893.7 284.8,890.7 285.0,887.7 285.2,884.7 285.4,881.7 285.6,878.7 285.9,875.7 286.1,872.7 286.3,869.7 286.5,866.7 286.7,863.7 287.0,860.7 287.2,857.8 287.4,854.8 287.6,851.8 287.9,848.8 288.2,845.8 288.5,842.8 288.8,839.8 289.1,836.8 289.4,833.9 289.7,830.9 290.0,827.9 290.3,824.9 290.6,821.9 291.0,818.9 291.3,816.0 291.6,813.0 291.9,810.0 292.2,807.0 292.5,804.0 292.8,801.0 293.1,798.0 293.4,795.1 293.7,792.1 294.0,789.1 294.3,786.1 294.6,783.1 294.9,780.1 295.2,777.2 295.5,774.2 295.9,771.2 296.2,768.2 296.6,765.2 296.9,762.2 297.2,759.3 297.6,756.3 297.9,753.3 298.3,750.3 298.8,747.4 299.2,744.4 299.8,741.5 300.5,738.6 301.4,735.7 302.4,732.9 303.8,730.4 305.5,728.4 307.6,727.4 309.7,727.9 311.6,729.6 313.1,732.1 314.3,734.7 315.4,737.5 316.3,740.4 317.1,743.3 317.8,746.2 318.5,749.1 319.2,752.0 319.9,754.9 320.5,757.9 321.1,760.8 321.7,763.7 322.3,766.7 322.9,769.6 323.5,772.6 324.0,775.5 324.6,778.5 325.1,781.4 325.6,784.4 326.0,787.4 326.5,790.3 327.0,793.3 327.5,796.2 327.9,799.2 328.3,802.2 328.6,805.2 328.8,808.2 329.1,811.1 329.4,814.1 329.6,817.1 329.9,820.1 330.2,823.1 330.4,826.1 330.7,829.1 331.0,832.1 331.2,835.1 331.5,838.0 331.8,841.0 332.1,844.0 332.3,847.0 332.7,850.0 333.0,853.0 333.5,855.9 333.9,858.9 334.4,861.9 334.8,864.8 335.3,867.8 335.7,870.8 336.2,873.7 336.7,876.7 337.2,879.6 337.8,882.6 338.4,885.5 339.0,888.5 339.6,891.4 340.2,894.3 340.9,897.3 341.6,900.2 342.3,903.1 343.0,906.0 343.8,908.9 344.5,911.8 345.2,914.7 345.9,917.6 346.7,920.5 347.4,923.5 348.1,926.4 348.8,929.3 349.5,932.2 350.1,935.1 350.8,938.1 351.5,941.0 352.1,943.9 352.8,946.8 353.4,949.8 354.0,952.7 354.7,955.6 355.3,958.6 356.1,961.5 356.9,964.4 357.7,967.2 358.6,970.1 359.5,973.0 360.6,975.8 361.8,978.5 363.0,981.3 364.2,984.0 365.5,986.7 366.8,989.4 368.2,992.1 369.6,994.7 371.1,997.3 372.7,999.8 374.5,1002.1 376.6,1004.2 378.9,1006.1 381.2,1008.0 383.6,1009.8 386.1,1011.5 388.6,1013.0 391.2,1013.9 394.0,1014.4 396.8,1014.8 399.6,1015.5 402.4,1016.0 405.1,1016.0 407.9,1015.2 410.5,1013.9 412.8,1012.2 415.0,1010.2 417.0,1008.0 418.8,1005.6 420.5,1003.2 422.1,1000.6 423.7,998.1 425.2,995.5 426.6,992.8 427.9,990.1 429.1,987.4 430.3,984.6 431.5,981.9 432.7,979.2 434.0,976.4 435.2,973.7 436.4,970.9 437.6,968.2 438.7,965.4 439.8,962.6 440.9,959.8 441.9,957.0 443.1,954.2 444.4,951.6 445.9,949.0 447.5,946.5 449.3,944.0 451.1,941.7 453.2,939.6 455.5,937.7 458.0,936.1 460.6,934.8 463.4,934.1 466.3,933.9 469.1,934.4 471.8,935.5 474.5,936.9 477.1,938.3 479.7,939.8 482.3,941.3 484.8,942.9 487.4,944.5 490.0,945.9 492.6,947.3 495.4,948.4 498.1,949.3 500.9,949.5 503.7,949.0 506.5,948.0 509.2,946.8 511.8,945.4 514.3,943.8 516.8,942.1 519.2,940.3 521.6,938.6 524.1,936.9 526.5,935.2 529.0,933.4 531.4,931.7 534.0,930.3 536.7,929.3 539.5,929.0 542.4,929.3 545.2,930.1 548.0,931.1 550.8,932.2 553.6,933.3 556.3,934.6 558.8,936.1 561.1,938.0 563.4,940.0 565.5,942.1 567.6,944.2 569.7,946.3 571.9,948.4 574.1,950.5 576.3,952.4 578.7,954.3 581.1,956.1 583.5,957.8 586.0,959.4 588.5,961.0 591.0,962.7 593.4,964.4 596.0,965.8 598.7,966.8 601.6,967.3 604.6,967.6 607.6,967.8 610.6,967.8 613.5,967.6 616.5,967.2 619.3,966.3 621.9,965.0 624.5,963.5 626.9,961.8 629.3,960.0 631.8,958.2 634.1,956.4 636.6,954.7 639.1,953.2 641.8,952.0 644.7,951.1 647.6,950.5 650.5,950.1 653.5,949.8 656.5,949.7 659.5,949.8 662.5,950.0 665.4,950.4 668.4,950.6"/>
</g>
<rect x="74.9" y="652.4" width="594.6" height="525.8" fill="none" stroke="#000" stroke-width="2.3"/>
<g stroke="#000" stroke-width="2.3"><line x1="74.9" y1="1178.2" x2="74.9" y2="1182.5"/><line x1="149.23" y1="1178.2" x2="149.23" y2="1182.5"/><line x1="223.55" y1="1178.2" x2="223.55" y2="1182.5"/><line x1="297.88" y1="1178.2" x2="297.88" y2="1182.5"/><line x1="372.2" y1="1178.2" x2="372.2" y2="1182.5"/><line x1="446.52" y1="1178.2" x2="446.52" y2="1182.5"/><line x1="520.85" y1="1178.2" x2="520.85" y2="1182.5"/><line x1="595.17" y1="1178.2" x2="595.17" y2="1182.5"/><line x1="669.5" y1="1178.2" x2="669.5" y2="1182.5"/><line x1="70.6" y1="1157.98" x2="74.9" y2="1157.98"/><line x1="70.6" y1="1056.86" x2="74.9" y2="1056.86"/><line x1="70.6" y1="955.75" x2="74.9" y2="955.75"/><line x1="70.6" y1="854.63" x2="74.9" y2="854.63"/><line x1="70.6" y1="753.52" x2="74.9" y2="753.52"/><line x1="70.6" y1="652.4" x2="74.9" y2="652.4"/></g>
<rect x="442.9" y="662.6" width="217.45" height="159.5" rx="5" ry="5" fill="#fff" fill-opacity="0.8" stroke="#d4d4d4" stroke-width="1.6"/>
<line x1="451.2" y1="683.2" x2="506.7" y2="683.2" stroke="#602C98" stroke-width="3.7"/>
<line x1="451.2" y1="721.3" x2="506.7" y2="721.3" stroke="#6495ED" stroke-width="3.7"/>
<line x1="451.2" y1="759.3" x2="506.7" y2="759.3" stroke="#007D00" stroke-width="3.7"/>
<line x1="451.2" y1="797.1" x2="506.7" y2="797.1" stroke="#FFD400" stroke-width="3.7"/>
<g stroke="#e6e6e6" stroke-width="1.6" stroke-dasharray="4.2 1.5"><line x1="838.1" y1="654.4" x2="838.1" y2="1180.2"/><line x1="912.41" y1="654.4" x2="912.41" y2="1180.2"/><line x1="986.73" y1="654.4" x2="986.73" y2="1180.2"/><line x1="1061.04" y1="654.4" x2="1061.04" y2="1180.2"/><line x1="1135.35" y1="654.4" x2="1135.35" y2="1180.2"/><line x1="1209.66" y1="654.4" x2="1209.66" y2="1180.2"/><line x1="1283.97" y1="654.4" x2="1283.97" y2="1180.2"/><line x1="1358.29" y1="654.4" x2="1358.29" y2="1180.2"/><line x1="1432.6" y1="654.4" x2="1432.6" y2="1180.2"/><line x1="838.1" y1="1159.98" x2="1432.6" y2="1159.98"/><line x1="838.1" y1="1058.86" x2="1432.6" y2="1058.86"/><line x1="838.1" y1="957.75" x2="1432.6" y2="957.75"/><line x1="838.1" y1="856.63" x2="1432.6" y2="856.63"/><line x1="838.1" y1="755.52" x2="1432.6" y2="755.52"/><line x1="838.1" y1="654.4" x2="1432.6" y2="654.4"/></g>
<g fill="none" stroke-width="2.75" stroke-linejoin="round" stroke-linecap="butt" clip-path="url(#clipd)">
<path stroke="#602C98" d="M838.1,1159.7 841.1,1159.7 844.1,1159.7 847.1,1159.7 850.1,1159.7 853.1,1159.7 856.1,1159.7 859.1,1159.7 862.1,1159.7 865.1,1159.7 868.1,1159.6 871.1,1159.6 874.1,1159.6 877.1,1159.6 880.1,1159.6 883.1,1159.6 886.1,1159.6 889.1,1159.6 892.1,1159.6 895.1,1159.6 898.1,1159.6 901.1,1159.6 904.1,1159.6 907.1,1159.6 910.1,1159.6 913.1,1159.6 916.1,1159.6 919.1,1159.6 922.1,1159.5 925.1,1159.5 928.1,1159.5 931.1,1159.5 934.1,1159.5 937.1,1159.5 940.1,1159.5 943.1,1159.5 946.1,1159.5 949.1,1159.5 952.1,1159.5 955.1,1159.5 958.1,1159.5 961.1,1159.5 964.1,1159.5 967.1,1159.5 970.1,1159.5 973.1,1159.5 976.1,1159.4 979.1,1159.4 982.1,1159.4 985.1,1159.4 988.1,1159.4 991.1,1159.4 994.1,1159.4 997.1,1159.4 1000.1,1159.4 1003.1,1159.4 1006.1,1159.4 1009.1,1159.4 1012.1,1159.4 1015.1,1159.4 1018.1,1159.4 1021.1,1159.4 1024.1,1159.4 1027.1,1159.4 1030.1,1159.3 1033.1,1159.2 1036.0,1158.7 1038.7,1157.8 1041.3,1156.3 1043.6,1154.5 1045.7,1152.4 1047.6,1150.1 1049.3,1147.7 1050.8,1145.1 1052.1,1142.4 1053.2,1139.7 1054.2,1136.8 1055.2,1134.0 1056.2,1131.2 1057.0,1128.3 1057.9,1125.4 1058.7,1122.5 1059.5,1119.6 1060.2,1116.7 1061.0,1113.8 1061.7,1110.9 1062.4,1108.0 1063.1,1105.1 1063.8,1102.1 1064.4,1099.2 1065.0,1096.3 1065.6,1093.3 1066.2,1090.4 1066.8,1087.4 1067.4,1084.5 1068.0,1081.6 1068.6,1078.6 1069.2,1075.7 1069.7,1072.7 1070.3,1069.8 1070.9,1066.8 1071.4,1063.9 1071.9,1060.9 1072.4,1058.0 1072.9,1055.0 1073.4,1052.0 1073.8,1049.1 1074.3,1046.1 1074.8,1043.2 1075.2,1040.2 1075.7,1037.2 1076.2,1034.3 1076.6,1031.3 1077.1,1028.3 1077.5,1025.4 1077.9,1022.4 1078.3,1019.4 1078.7,1016.4 1079.1,1013.5 1079.5,1010.5 1079.9,1007.5 1080.3,1004.5 1080.7,1001.6 1081.1,998.6 1081.5,995.6 1082.0,992.7 1082.4,989.7 1082.8,986.7 1083.2,983.7 1083.7,980.8 1084.1,977.8 1084.5,974.8 1084.9,971.8 1085.2,968.9 1085.6,965.9 1086.0,962.9 1086.3,959.9 1086.7,957.0 1087.0,954.0 1087.4,951.0 1087.8,948.0 1088.2,945.1 1088.7,942.1 1089.1,939.1 1089.6,936.2 1090.2,933.2 1090.7,930.3 1091.3,927.3 1091.9,924.4 1092.4,921.4 1093.0,918.5 1093.6,915.5 1094.3,912.6 1094.9,909.7 1095.6,906.8 1096.3,903.8 1097.0,900.9 1097.7,898.0 1098.5,895.1 1099.4,892.2 1100.2,889.4 1101.1,886.5 1102.0,883.6 1102.9,880.8 1103.8,877.9 1104.8,875.1 1105.7,872.2 1106.8,869.5 1108.1,866.7 1109.5,864.1 1111.1,861.6 1112.8,859.2 1114.8,857.1 1117.1,855.4 1119.8,854.5 1122.6,854.2 1125.5,854.6 1128.2,855.5 1130.7,856.9 1132.9,858.8 1134.8,861.0 1136.5,863.5 1138.1,866.1 1139.5,868.7 1140.9,871.3 1142.2,874.0 1143.4,876.8 1144.4,879.6 1145.2,882.5 1146.0,885.4 1146.8,888.3 1147.6,891.1 1148.5,894.0 1149.4,896.9 1150.3,899.7 1151.2,902.6 1152.2,905.4 1153.2,908.2 1154.3,911.1 1155.3,913.9 1156.4,916.7 1157.5,919.5 1158.5,922.3 1159.5,925.1 1160.5,928.0 1161.4,930.8 1162.2,933.7 1163.1,936.6 1164.0,939.4 1165.0,942.3 1166.0,945.1 1167.1,947.9 1168.2,950.7 1169.2,953.5 1170.2,956.3 1171.2,959.1 1172.2,962.0 1173.1,964.8 1174.1,967.7 1175.1,970.5 1176.2,973.3 1177.3,976.1 1178.4,978.9 1179.7,981.6 1181.0,984.3 1182.4,986.9 1183.9,989.5 1185.4,992.1 1186.9,994.7 1188.5,997.3 1190.1,999.8 1191.7,1002.3 1193.5,1004.7 1195.5,1006.9 1197.8,1008.7 1200.3,1010.0 1203.1,1010.7 1206.0,1010.7 1208.9,1010.2 1211.5,1009.1 1214.0,1007.6 1216.3,1005.7 1218.5,1003.6 1220.6,1001.5 1222.7,999.4 1224.8,997.2 1226.7,995.0 1228.5,992.6 1230.1,990.1 1231.7,987.5 1233.3,985.0 1235.1,982.6 1236.8,980.1 1238.6,977.8 1240.5,975.4 1242.5,973.2 1244.5,970.9 1246.5,968.7 1248.6,966.6 1250.7,964.4 1252.7,962.2 1254.7,960.0 1256.8,957.8 1259.0,955.8 1261.3,953.9 1263.7,952.1 1266.1,950.3 1268.6,948.7 1271.2,947.0 1273.7,945.5 1276.3,943.9 1278.8,942.3 1281.3,940.7 1283.8,939.0 1286.3,937.5 1289.0,936.4 1291.8,935.7 1294.6,935.1 1297.4,934.4 1300.3,933.6 1303.2,933.0 1306.2,932.5 1309.1,932.1 1312.1,931.9 1315.1,931.9 1318.1,931.9 1321.1,932.0 1324.1,932.2 1327.1,932.4 1330.0,932.5 1333.0,932.4 1335.9,932.3 1338.8,932.6 1341.6,933.5 1344.3,934.7 1347.0,935.9 1349.7,937.2 1352.3,938.6 1354.8,940.2 1357.2,941.9 1359.6,943.8 1361.9,945.7 1364.2,947.7 1366.5,949.5 1368.9,951.3 1371.4,953.0 1374.0,954.5 1376.6,955.9 1379.3,957.2 1382.0,958.6 1384.7,959.9 1387.4,961.3 1390.1,962.6 1392.8,963.9 1395.5,965.1 1398.3,966.0 1401.2,966.7 1404.2,967.2 1407.1,967.5 1410.1,967.6 1413.0,967.3 1415.9,966.6 1418.8,965.7 1421.6,964.8 1424.5,963.9 1427.3,963.0 1430.2,962.1 1431.6,961.6"/>
<path stroke="#6495ED" d="M838.1,1159.7 841.1,1159.7 844.1,1159.7 847.1,1159.7 850.1,1159.7 853.1,1159.7 856.1,1159.7 859.1,1159.7 862.1,1159.7 865.1,1159.6 868.1,1159.6 871.1,1159.6 874.1,1159.6 877.1,1159.6 880.1,1159.6 883.1,1159.6 886.1,1159.6 889.1,1159.6 892.2,1159.6 895.2,1159.6 898.2,1159.6 901.2,1159.6 904.2,1159.6 907.2,1159.6 910.2,1159.6 913.2,1159.6 916.2,1159.6 919.2,1159.5 922.2,1159.5 925.2,1159.5 928.2,1159.5 931.2,1159.5 934.2,1159.5 937.2,1159.5 940.2,1159.5 943.2,1159.5 946.2,1159.5 949.2,1159.5 952.2,1159.5 955.2,1159.5 958.2,1159.5 961.2,1159.5 964.2,1159.5 967.2,1159.5 970.2,1159.5 973.2,1159.4 976.2,1159.4 979.2,1159.4 982.2,1159.4 985.2,1159.4 988.2,1159.4 991.2,1159.4 994.3,1159.4 997.3,1159.4 1000.3,1159.4 1003.3,1159.4 1006.3,1159.4 1009.3,1159.4 1012.3,1159.4 1015.3,1159.4 1018.3,1159.4 1021.3,1159.4 1024.3,1159.3 1027.3,1159.3 1030.3,1159.2 1033.2,1158.8 1036.0,1158.0 1038.4,1156.6 1040.5,1154.6 1042.2,1152.2 1043.6,1149.6 1044.9,1146.9 1046.0,1144.1 1046.9,1141.3 1047.7,1138.4 1048.5,1135.5 1049.3,1132.6 1050.0,1129.7 1050.6,1126.7 1051.3,1123.8 1051.9,1120.9 1052.5,1117.9 1053.1,1115.0 1053.6,1112.0 1054.2,1109.1 1054.7,1106.1 1055.2,1103.2 1055.8,1100.2 1056.3,1097.2 1056.8,1094.3 1057.3,1091.3 1057.8,1088.4 1058.3,1085.4 1058.8,1082.4 1059.2,1079.5 1059.7,1076.5 1060.1,1073.5 1060.6,1070.6 1061.0,1067.6 1061.4,1064.6 1061.8,1061.6 1062.3,1058.7 1062.7,1055.7 1063.1,1052.7 1063.5,1049.7 1063.9,1046.8 1064.3,1043.8 1064.7,1040.8 1065.1,1037.8 1065.5,1034.9 1065.9,1031.9 1066.3,1028.9 1066.7,1025.9 1067.1,1023.0 1067.5,1020.0 1067.9,1017.0 1068.3,1014.0 1068.7,1011.1 1069.1,1008.1 1069.4,1005.1 1069.9,1002.1 1070.3,999.2 1070.7,996.2 1071.1,993.2 1071.5,990.2 1071.9,987.3 1072.3,984.3 1072.7,981.3 1073.1,978.3 1073.6,975.4 1074.0,972.4 1074.4,969.4 1074.9,966.5 1075.4,963.5 1075.9,960.5 1076.4,957.6 1076.8,954.6 1077.2,951.6 1077.7,948.6 1078.1,945.7 1078.5,942.7 1079.0,939.7 1079.4,936.8 1079.8,933.8 1080.3,930.8 1080.7,927.8 1081.1,924.9 1081.5,921.9 1081.9,918.9 1082.3,915.9 1082.7,913.0 1083.1,910.0 1083.5,907.0 1083.9,904.0 1084.4,901.1 1085.0,898.1 1085.5,895.2 1086.0,892.2 1086.6,889.3 1087.1,886.3 1087.7,883.4 1088.3,880.4 1089.0,877.5 1089.7,874.6 1090.5,871.7 1091.2,868.8 1092.0,865.9 1092.9,863.0 1093.9,860.2 1095.1,857.4 1096.3,854.7 1097.6,852.0 1099.0,849.4 1100.6,846.8 1102.4,844.5 1104.5,842.5 1106.8,841.1 1109.5,840.5 1112.1,840.6 1114.4,841.4 1116.2,843.1 1117.7,845.5 1119.0,848.1 1120.4,850.8 1121.7,853.5 1123.0,856.2 1124.2,858.9 1125.4,861.7 1126.6,864.4 1127.7,867.2 1128.8,870.0 1129.8,872.8 1130.8,875.7 1131.6,878.6 1132.4,881.5 1133.1,884.4 1133.7,887.3 1134.4,890.2 1135.2,893.1 1136.0,896.0 1136.9,898.9 1137.9,901.7 1138.9,904.5 1139.9,907.4 1141.0,910.2 1142.2,912.9 1143.4,915.7 1144.6,918.4 1145.8,921.2 1147.0,923.9 1148.2,926.7 1149.4,929.4 1150.7,932.1 1152.1,934.8 1153.6,937.4 1155.1,940.0 1156.5,942.7 1157.9,945.3 1159.2,948.0 1160.6,950.7 1161.9,953.4 1163.3,956.1 1164.6,958.7 1165.9,961.4 1167.3,964.1 1168.5,966.8 1169.8,969.6 1171.0,972.3 1172.3,975.0 1173.6,977.7 1175.1,980.3 1176.7,982.9 1178.4,985.3 1180.1,987.8 1181.9,990.2 1183.9,992.4 1186.0,994.5 1188.4,996.3 1190.9,997.7 1193.6,998.9 1196.5,999.6 1199.3,999.8 1202.2,999.3 1204.9,998.2 1207.6,996.9 1210.3,995.7 1213.0,994.6 1215.8,993.5 1218.4,992.1 1220.9,990.4 1223.2,988.5 1225.4,986.5 1227.5,984.4 1229.6,982.2 1231.6,980.0 1233.6,977.8 1235.6,975.5 1237.5,973.2 1239.3,970.9 1241.1,968.5 1242.9,966.1 1244.9,963.9 1246.9,961.6 1248.8,959.4 1250.7,957.0 1252.7,954.7 1254.7,952.5 1256.8,950.4 1258.9,948.2 1261.0,946.1 1263.1,944.0 1265.3,941.9 1267.5,939.9 1269.8,938.0 1272.2,936.2 1274.7,934.5 1277.2,932.8 1279.7,931.2 1282.2,929.5 1284.6,927.8 1287.2,926.2 1289.8,924.8 1292.5,923.5 1295.2,922.4 1298.1,921.5 1301.0,920.9 1303.9,920.5 1306.9,920.1 1309.8,920.0 1312.7,920.4 1315.4,921.3 1317.9,922.8 1320.2,924.6 1322.6,926.4 1325.0,928.1 1327.6,929.6 1330.2,931.2 1332.7,932.8 1335.2,934.4 1337.7,936.1 1340.2,937.8 1342.7,939.4 1345.3,940.9 1347.9,942.4 1350.5,943.8 1353.1,945.4 1355.6,947.1 1357.9,948.9 1360.1,951.0 1362.1,953.2 1364.1,955.4 1366.1,957.7 1368.1,959.9 1370.3,961.9 1372.6,963.8 1375.1,965.4 1377.7,966.9 1380.4,968.2 1383.2,969.3 1386.0,970.2 1388.9,970.9 1391.8,971.5 1394.8,971.8 1397.8,972.0 1400.8,972.0 1403.8,971.8 1406.7,971.3 1409.6,970.5 1412.4,969.5 1415.2,968.5 1418.0,967.5 1420.9,966.4 1423.6,965.3 1426.4,964.1 1429.0,962.8 1431.6,961.2"/>
<path stroke="#007D00" d="M838.1,1159.7 841.1,1159.7 844.1,1159.7 847.1,1159.7 850.1,1159.7 853.1,1159.7 856.1,1159.7 859.1,1159.7 862.1,1159.7 865.1,1159.6 868.1,1159.6 871.1,1159.6 874.1,1159.6 877.1,1159.6 880.1,1159.6 883.1,1159.6 886.1,1159.6 889.1,1159.6 892.1,1159.6 895.1,1159.6 898.1,1159.6 901.1,1159.6 904.1,1159.6 907.1,1159.6 910.1,1159.6 913.1,1159.6 916.1,1159.6 919.1,1159.5 922.1,1159.5 925.1,1159.5 928.1,1159.5 931.1,1159.5 934.1,1159.5 937.1,1159.5 940.1,1159.5 943.1,1159.5 946.1,1159.5 949.1,1159.5 952.1,1159.5 955.1,1159.5 958.1,1159.5 961.1,1159.5 964.1,1159.5 967.1,1159.5 970.1,1159.4 973.1,1159.4 976.1,1159.4 979.1,1159.4 982.1,1159.4 985.1,1159.4 988.1,1159.4 991.1,1159.4 994.1,1159.4 997.1,1159.4 1000.1,1159.4 1003.1,1159.4 1006.1,1159.4 1009.1,1159.4 1012.1,1159.4 1015.1,1159.4 1018.1,1159.4 1021.1,1159.3 1024.1,1159.3 1027.1,1159.1 1029.9,1158.5 1032.7,1157.4 1035.2,1155.9 1037.4,1154.0 1039.3,1151.8 1040.8,1149.3 1042.1,1146.6 1043.1,1143.8 1044.0,1141.0 1044.8,1138.1 1045.6,1135.2 1046.3,1132.3 1047.0,1129.3 1047.6,1126.4 1048.2,1123.5 1048.9,1120.5 1049.5,1117.6 1050.0,1114.6 1050.5,1111.7 1051.1,1108.7 1051.6,1105.8 1052.1,1102.8 1052.7,1099.9 1053.2,1096.9 1053.7,1094.0 1054.2,1091.0 1054.7,1088.0 1055.1,1085.1 1055.6,1082.1 1056.1,1079.1 1056.5,1076.2 1056.8,1073.2 1057.2,1070.2 1057.6,1067.2 1058.0,1064.3 1058.3,1061.3 1058.7,1058.3 1059.0,1055.3 1059.4,1052.3 1059.7,1049.4 1060.1,1046.4 1060.4,1043.4 1060.8,1040.4 1061.1,1037.4 1061.4,1034.5 1061.7,1031.5 1062.0,1028.5 1062.3,1025.5 1062.6,1022.5 1062.9,1019.5 1063.2,1016.5 1063.5,1013.6 1063.8,1010.6 1064.1,1007.6 1064.4,1004.6 1064.7,1001.6 1065.0,998.6 1065.3,995.6 1065.6,992.7 1065.9,989.7 1066.2,986.7 1066.5,983.7 1066.8,980.7 1067.1,977.7 1067.4,974.7 1067.7,971.8 1068.0,968.8 1068.3,965.8 1068.6,962.8 1068.8,959.8 1069.1,956.8 1069.3,953.8 1069.5,950.8 1069.7,947.8 1069.9,944.8 1070.2,941.9 1070.4,938.9 1070.6,935.9 1070.8,932.9 1071.0,929.9 1071.2,926.9 1071.4,923.9 1071.7,920.9 1072.0,917.9 1072.3,914.9 1072.5,911.9 1072.8,909.0 1073.1,906.0 1073.4,903.0 1073.7,900.0 1074.0,897.0 1074.3,894.0 1074.6,891.0 1075.0,888.1 1075.3,885.1 1075.6,882.1 1075.9,879.1 1076.3,876.1 1076.6,873.1 1076.9,870.2 1077.3,867.2 1077.6,864.2 1078.0,861.2 1078.3,858.2 1078.8,855.3 1079.2,852.3 1079.6,849.3 1080.1,846.4 1080.5,843.4 1080.9,840.4 1081.4,837.5 1081.9,834.5 1082.4,831.5 1082.9,828.6 1083.5,825.7 1084.2,822.7 1084.8,819.8 1085.4,816.9 1086.1,813.9 1086.8,811.0 1087.6,808.1 1088.5,805.3 1089.4,802.4 1090.6,799.7 1092.0,797.1 1093.7,794.9 1095.7,793.4 1098.0,793.2 1100.1,794.4 1102.0,796.4 1103.6,798.9 1104.9,801.5 1106.1,804.3 1107.2,807.1 1108.3,809.9 1109.4,812.7 1110.5,815.5 1111.7,818.2 1112.8,821.0 1113.8,823.8 1114.7,826.6 1115.5,829.5 1116.2,832.5 1116.9,835.4 1117.7,838.3 1118.5,841.2 1119.3,844.1 1120.1,846.9 1121.0,849.8 1121.9,852.7 1122.9,855.5 1123.8,858.4 1124.7,861.2 1125.6,864.1 1126.5,867.0 1127.3,869.8 1128.1,872.7 1128.8,875.6 1129.4,878.6 1130.0,881.5 1130.6,884.5 1131.1,887.4 1131.7,890.4 1132.3,893.3 1133.1,896.2 1133.9,899.1 1134.7,902.0 1135.6,904.8 1136.5,907.7 1137.4,910.6 1138.3,913.4 1139.3,916.3 1140.2,919.1 1141.1,922.0 1141.9,924.9 1142.7,927.7 1143.5,930.6 1144.3,933.5 1145.2,936.4 1146.0,939.3 1147.0,942.1 1148.0,945.0 1149.0,947.8 1150.0,950.6 1151.0,953.4 1152.0,956.3 1153.1,959.1 1154.2,961.9 1155.3,964.6 1156.6,967.3 1157.9,970.0 1159.2,972.7 1160.5,975.4 1161.8,978.2 1163.0,980.9 1164.2,983.7 1165.4,986.4 1166.5,989.2 1167.7,991.9 1169.0,994.6 1170.4,997.3 1171.9,999.9 1173.6,1002.3 1175.7,1004.4 1177.9,1006.3 1180.4,1008.0 1182.9,1009.5 1185.6,1010.7 1188.4,1011.3 1191.2,1011.3 1194.0,1010.5 1196.5,1009.1 1198.8,1007.3 1200.9,1005.2 1203.0,1003.1 1205.1,1000.9 1207.1,998.7 1209.0,996.4 1210.9,994.0 1212.8,991.7 1214.6,989.3 1216.4,987.0 1218.2,984.5 1219.9,982.1 1221.7,979.6 1223.5,977.3 1225.4,975.0 1227.5,972.9 1229.6,970.8 1231.9,968.9 1234.2,967.0 1236.5,965.1 1238.9,963.3 1241.4,961.7 1243.9,960.2 1246.3,958.4 1248.5,956.5 1250.6,954.3 1252.7,952.2 1254.7,950.0 1256.7,947.7 1258.7,945.5 1260.5,943.1 1262.4,940.8 1264.3,938.5 1266.3,936.2 1268.3,934.0 1270.4,931.9 1272.5,929.7 1274.7,927.6 1276.8,925.5 1279.0,923.5 1281.2,921.5 1283.5,919.6 1285.9,917.7 1288.4,916.0 1290.8,914.3 1293.3,912.7 1295.9,911.2 1298.6,909.8 1301.3,908.7 1304.1,907.9 1306.9,907.9 1309.7,908.6 1312.3,909.8 1314.9,911.3 1317.4,912.9 1319.6,914.9 1321.7,917.0 1323.6,919.3 1325.6,921.5 1327.6,923.8 1329.5,926.1 1331.2,928.5 1332.7,931.1 1334.2,933.7 1335.7,936.3 1337.2,938.9 1338.8,941.4 1340.5,943.8 1342.3,946.2 1344.0,948.7 1345.5,951.3 1347.0,953.9 1348.6,956.4 1350.3,958.9 1352.1,961.3 1353.9,963.7 1355.7,966.1 1357.5,968.5 1359.3,970.9 1361.2,973.2 1363.1,975.5 1365.2,977.5 1367.6,979.3 1370.2,980.8 1372.9,982.0 1375.7,983.0 1378.5,983.6 1381.4,983.6 1384.3,983.1 1387.2,982.3 1390.0,981.2 1392.8,980.1 1395.5,978.9 1398.2,977.6 1400.8,976.1 1403.3,974.5 1405.8,972.9 1408.4,971.4 1411.0,970.0 1413.5,968.4 1415.9,966.6 1418.1,964.6 1420.3,962.6 1422.5,960.5 1424.8,958.6 1427.1,956.6 1429.3,954.7 1431.6,952.7"/>
<path stroke="#FFD400" d="M838.1,1159.7 841.1,1159.7 844.1,1159.7 847.1,1159.7 850.1,1159.7 853.1,1159.7 856.1,1159.7 859.1,1159.7 862.1,1159.7 865.1,1159.6 868.1,1159.6 871.1,1159.6 874.1,1159.6 877.1,1159.6 880.1,1159.6 883.1,1159.6 886.1,1159.6 889.1,1159.6 892.1,1159.6 895.1,1159.6 898.1,1159.6 901.1,1159.6 904.1,1159.6 907.1,1159.6 910.1,1159.6 913.1,1159.6 916.1,1159.6 919.2,1159.5 922.2,1159.5 925.2,1159.5 928.2,1159.5 931.2,1159.5 934.2,1159.5 937.2,1159.5 940.2,1159.5 943.2,1159.5 946.2,1159.5 949.2,1159.5 952.2,1159.5 955.2,1159.5 958.2,1159.5 961.2,1159.5 964.2,1159.5 967.2,1159.5 970.2,1159.4 973.2,1159.4 976.2,1159.4 979.2,1159.4 982.2,1159.4 985.2,1159.4 988.2,1159.4 991.2,1159.4 994.2,1159.4 997.2,1159.4 1000.2,1159.4 1003.2,1159.4 1006.2,1159.4 1009.2,1159.4 1012.2,1159.4 1015.2,1159.4 1018.2,1159.4 1021.2,1159.3 1024.1,1159.2 1026.9,1158.6 1029.2,1157.3 1031.2,1155.3 1032.9,1152.9 1034.2,1150.2 1035.3,1147.5 1036.3,1144.6 1037.3,1141.8 1038.2,1138.9 1038.9,1136.0 1039.7,1133.1 1040.4,1130.2 1041.1,1127.3 1041.8,1124.4 1042.5,1121.4 1043.1,1118.5 1043.7,1115.6 1044.3,1112.6 1044.8,1109.7 1045.4,1106.7 1045.9,1103.8 1046.5,1100.8 1047.0,1097.9 1047.4,1094.9 1047.9,1091.9 1048.4,1089.0 1048.9,1086.0 1049.3,1083.0 1049.7,1080.1 1050.0,1077.1 1050.3,1074.1 1050.7,1071.1 1051.0,1068.1 1051.4,1065.1 1051.7,1062.2 1052.0,1059.2 1052.3,1056.2 1052.6,1053.2 1052.9,1050.2 1053.2,1047.2 1053.5,1044.2 1053.8,1041.3 1054.1,1038.3 1054.4,1035.3 1054.6,1032.3 1054.9,1029.3 1055.2,1026.3 1055.4,1023.3 1055.7,1020.3 1056.0,1017.3 1056.2,1014.3 1056.5,1011.4 1056.7,1008.4 1057.0,1005.4 1057.2,1002.4 1057.4,999.4 1057.7,996.4 1057.9,993.4 1058.1,990.4 1058.3,987.4 1058.5,984.4 1058.8,981.4 1059.0,978.4 1059.2,975.4 1059.4,972.4 1059.6,969.4 1059.9,966.5 1060.1,963.5 1060.3,960.5 1060.5,957.5 1060.8,954.5 1061.0,951.5 1061.3,948.5 1061.5,945.5 1061.8,942.5 1062.0,939.5 1062.3,936.5 1062.5,933.5 1062.8,930.5 1063.0,927.6 1063.3,924.6 1063.5,921.6 1063.8,918.6 1064.1,915.6 1064.3,912.6 1064.6,909.6 1064.9,906.6 1065.2,903.6 1065.4,900.6 1065.7,897.7 1066.0,894.7 1066.2,891.7 1066.5,888.7 1066.8,885.7 1067.1,882.7 1067.3,879.7 1067.6,876.7 1067.9,873.7 1068.1,870.7 1068.4,867.8 1068.7,864.8 1069.0,861.8 1069.2,858.8 1069.5,855.8 1069.8,852.8 1070.1,849.8 1070.4,846.8 1070.7,843.9 1071.1,840.9 1071.4,837.9 1071.7,834.9 1072.0,831.9 1072.4,828.9 1072.7,826.0 1073.1,823.0 1073.4,820.0 1073.8,817.0 1074.2,814.0 1074.6,811.1 1075.1,808.1 1075.5,805.1 1075.9,802.2 1076.3,799.2 1076.7,796.2 1077.2,793.2 1077.6,790.3 1078.1,787.3 1078.7,784.4 1079.2,781.4 1079.7,778.4 1080.3,775.5 1080.8,772.5 1081.3,769.6 1081.9,766.6 1082.4,763.7 1083.0,760.7 1083.6,757.8 1084.2,754.9 1085.1,752.0 1086.3,749.4 1087.8,747.2 1089.7,745.9 1091.8,746.1 1093.7,747.6 1095.2,749.9 1096.5,752.6 1097.8,755.3 1098.9,758.1 1100.0,760.9 1100.9,763.7 1101.7,766.6 1102.5,769.5 1103.2,772.4 1103.9,775.3 1104.7,778.2 1105.5,781.1 1106.3,784.0 1107.1,786.9 1107.8,789.8 1108.4,792.8 1109.0,795.7 1109.6,798.6 1110.2,801.6 1110.7,804.5 1111.3,807.5 1111.9,810.4 1112.4,813.4 1113.0,816.3 1113.6,819.3 1114.1,822.2 1114.7,825.2 1115.2,828.1 1115.6,831.1 1116.1,834.1 1116.6,837.0 1117.0,840.0 1117.5,843.0 1117.9,845.9 1118.4,848.9 1118.8,851.9 1119.3,854.8 1119.8,857.8 1120.2,860.8 1120.6,863.7 1121.1,866.7 1121.5,869.7 1121.9,872.7 1122.3,875.6 1122.8,878.6 1123.2,881.6 1123.6,884.5 1124.0,887.5 1124.4,890.5 1124.8,893.5 1125.2,896.4 1125.7,899.4 1126.1,902.4 1126.7,905.3 1127.2,908.3 1127.8,911.2 1128.3,914.2 1128.9,917.1 1129.5,920.1 1130.1,923.0 1130.7,926.0 1131.3,928.9 1131.9,931.8 1132.6,934.8 1133.3,937.7 1134.1,940.6 1134.9,943.4 1135.8,946.3 1136.6,949.2 1137.4,952.1 1138.2,955.0 1138.9,957.9 1139.7,960.8 1140.5,963.7 1141.3,966.6 1142.2,969.4 1143.2,972.3 1144.1,975.1 1145.1,978.0 1146.2,980.8 1147.2,983.6 1148.3,986.4 1149.3,989.2 1150.4,992.0 1151.4,994.8 1152.5,997.6 1153.5,1000.5 1154.6,1003.3 1155.6,1006.1 1156.7,1008.9 1157.8,1011.7 1158.9,1014.5 1160.1,1017.2 1161.4,1019.9 1162.9,1022.5 1164.6,1025.0 1166.4,1027.3 1168.5,1029.4 1170.8,1031.2 1173.3,1032.6 1175.9,1033.0 1178.4,1032.5 1180.6,1030.9 1182.6,1028.8 1184.3,1026.3 1185.9,1023.8 1187.5,1021.2 1189.0,1018.7 1190.5,1016.0 1191.8,1013.4 1193.1,1010.7 1194.2,1007.9 1195.4,1005.1 1196.4,1002.3 1197.4,999.5 1198.3,996.6 1199.3,993.8 1200.2,990.9 1201.2,988.1 1202.1,985.2 1203.1,982.4 1204.2,979.6 1205.3,976.8 1206.6,974.1 1207.9,971.4 1209.3,968.8 1210.7,966.1 1212.2,963.5 1213.7,960.9 1215.4,958.5 1217.3,956.3 1219.5,954.3 1222.0,952.6 1224.5,951.0 1227.0,949.6 1229.5,948.4 1232.0,947.1 1234.4,945.6 1237.0,944.1 1239.6,942.8 1242.3,941.4 1244.8,939.9 1247.1,938.0 1249.4,936.1 1251.7,934.2 1254.1,932.5 1256.7,931.0 1259.4,929.7 1262.1,928.6 1264.9,927.7 1267.8,927.1 1270.7,926.2 1273.4,925.1 1276.1,923.8 1278.7,922.3 1281.3,921.0 1284.1,920.1 1287.0,919.6 1289.9,919.7 1292.8,920.2 1295.7,921.0 1298.5,922.1 1301.2,923.3 1303.8,924.7 1306.3,926.4 1308.6,928.3 1310.7,930.4 1312.7,932.7 1314.5,935.0 1316.4,937.4 1318.2,939.7 1320.1,942.0 1322.1,944.2 1324.2,946.4 1326.2,948.5 1328.3,950.5 1330.3,952.4 1332.3,954.4 1334.2,956.7 1336.1,959.0 1338.0,961.3 1340.0,963.6 1341.9,965.9 1343.7,968.2 1345.7,970.5 1347.9,972.5 1350.1,974.5 1352.4,976.4 1354.9,978.2 1357.4,979.7 1360.1,980.9 1362.9,982.0 1365.7,982.8 1368.6,983.4 1371.6,983.7 1374.5,983.8 1377.3,983.4 1379.9,982.4 1382.3,980.8 1384.7,978.9 1387.0,977.0 1389.3,975.1 1391.7,973.3 1394.1,971.5 1396.4,969.6 1398.7,967.7 1401.0,965.7 1403.3,963.8 1405.5,961.8 1407.7,959.7 1409.9,957.7 1412.1,955.7 1414.5,953.8 1416.8,952.0 1419.2,950.1 1421.5,948.3 1423.9,946.5 1426.4,944.8 1428.9,943.2 1431.6,941.9"/>
</g>
<rect x="838.1" y="654.4" width="594.5" height="525.8" fill="none" stroke="#000" stroke-width="2.3"/>
<g stroke="#000" stroke-width="2.3"><line x1="838.1" y1="1180.2" x2="838.1" y2="1184.5"/><line x1="912.41" y1="1180.2" x2="912.41" y2="1184.5"/><line x1="986.73" y1="1180.2" x2="986.73" y2="1184.5"/><line x1="1061.04" y1="1180.2" x2="1061.04" y2="1184.5"/><line x1="1135.35" y1="1180.2" x2="1135.35" y2="1184.5"/><line x1="1209.66" y1="1180.2" x2="1209.66" y2="1184.5"/><line x1="1283.97" y1="1180.2" x2="1283.97" y2="1184.5"/><line x1="1358.29" y1="1180.2" x2="1358.29" y2="1184.5"/><line x1="1432.6" y1="1180.2" x2="1432.6" y2="1184.5"/><line x1="833.8" y1="1159.98" x2="838.1" y2="1159.98"/><line x1="833.8" y1="1058.86" x2="838.1" y2="1058.86"/><line x1="833.8" y1="957.75" x2="838.1" y2="957.75"/><line x1="833.8" y1="856.63" x2="838.1" y2="856.63"/><line x1="833.8" y1="755.52" x2="838.1" y2="755.52"/><line x1="833.8" y1="654.4" x2="838.1" y2="654.4"/></g>
<rect x="1205.4" y="665" width="218.2" height="158.7" rx="5" ry="5" fill="#fff" fill-opacity="0.8" stroke="#d4d4d4" stroke-width="1.6"/>
<line x1="1214" y1="685.5" x2="1269.2" y2="685.5" stroke="#602C98" stroke-width="3.7"/>
<line x1="1214" y1="723.7" x2="1269.2" y2="723.7" stroke="#6495ED" stroke-width="3.7"/>
<line x1="1214" y1="761.5" x2="1269.2" y2="761.5" stroke="#007D00" stroke-width="3.7"/>
<line x1="1214" y1="799.2" x2="1269.2" y2="799.2" stroke="#FFD400" stroke-width="3.7"/>
<g fill="#000"><text transform="translate(-2.60,27.40)" font-size="36.0" font-weight="bold">a</text>
<text transform="translate(758.10,27.30)" font-size="36.0" font-weight="bold">b</text>
<text transform="translate(0.50,658.80)" font-size="36.0" font-weight="bold">c</text>
<text transform="translate(757.90,658.50)" font-size="36.0" font-weight="bold">d</text>
<text transform="translate(70.50,36.20) scale(1,1.015)" font-size="26.0" text-anchor="end">2.5</text>
<text transform="translate(70.50,136.65) scale(1,1.015)" font-size="26.0" text-anchor="end">2.0</text>
<text transform="translate(70.50,237.65) scale(1,1.015)" font-size="26.0" text-anchor="end">1.5</text>
<text transform="translate(70.50,338.25) scale(1,1.015)" font-size="26.0" text-anchor="end">1.0</text>
<text transform="translate(70.50,439.95) scale(1,1.015)" font-size="26.0" text-anchor="end">0.5</text>
<text transform="translate(70.50,541.11) scale(1,1.015)" font-size="26.0" text-anchor="end">0.0</text>
<text transform="translate(833.80,32.20) scale(1,1.015)" font-size="26.0" text-anchor="end">2.5</text>
<text transform="translate(833.80,133.30) scale(1,1.015)" font-size="26.0" text-anchor="end">2.0</text>
<text transform="translate(833.80,234.00) scale(1,1.015)" font-size="26.0" text-anchor="end">1.5</text>
<text transform="translate(833.80,334.60) scale(1,1.015)" font-size="26.0" text-anchor="end">1.0</text>
<text transform="translate(833.80,436.00) scale(1,1.015)" font-size="26.0" text-anchor="end">0.5</text>
<text transform="translate(833.80,536.20) scale(1,1.015)" font-size="26.0" text-anchor="end">0.0</text>
<text transform="translate(67.10,659.65) scale(1,1.015)" font-size="26.0" text-anchor="end">2.5</text>
<text transform="translate(67.10,760.30) scale(1,1.015)" font-size="26.0" text-anchor="end">2.0</text>
<text transform="translate(67.10,861.10) scale(1,1.015)" font-size="26.0" text-anchor="end">1.5</text>
<text transform="translate(67.10,961.20) scale(1,1.015)" font-size="26.0" text-anchor="end">1.0</text>
<text transform="translate(67.10,1063.30) scale(1,1.015)" font-size="26.0" text-anchor="end">0.5</text>
<text transform="translate(67.10,1163.25) scale(1,1.015)" font-size="26.0" text-anchor="end">0.0</text>
<text transform="translate(830.20,660.25) scale(1,1.015)" font-size="26.0" text-anchor="end">2.5</text>
<text transform="translate(830.20,760.70) scale(1,1.015)" font-size="26.0" text-anchor="end">2.0</text>
<text transform="translate(830.20,863.05) scale(1,1.015)" font-size="26.0" text-anchor="end">1.5</text>
<text transform="translate(830.20,964.00) scale(1,1.015)" font-size="26.0" text-anchor="end">1.0</text>
<text transform="translate(830.20,1064.25) scale(1,1.015)" font-size="26.0" text-anchor="end">0.5</text>
<text transform="translate(830.20,1166.35) scale(1,1.015)" font-size="26.0" text-anchor="end">0.0</text>
<text transform="translate(81.00,577.90) scale(1,1.015)" font-size="26.0" text-anchor="middle">0</text>
<text transform="translate(150.00,577.90) scale(1,1.015)" font-size="26.0" text-anchor="middle">1</text>
<text transform="translate(229.00,577.90) scale(1,1.015)" font-size="26.0" text-anchor="middle">2</text>
<text transform="translate(300.00,577.90) scale(1,1.015)" font-size="26.0" text-anchor="middle">3</text>
<text transform="translate(373.50,577.90) scale(1,1.015)" font-size="26.0" text-anchor="middle">4</text>
<text transform="translate(451.80,577.90) scale(1,1.015)" font-size="26.0" text-anchor="middle">5</text>
<text transform="translate(527.00,577.90) scale(1,1.015)" font-size="26.0" text-anchor="middle">6</text>
<text transform="translate(601.20,577.90) scale(1,1.015)" font-size="26.0" text-anchor="middle">7</text>
<text transform="translate(675.40,577.90) scale(1,1.015)" font-size="26.0" text-anchor="middle">8</text>
<text transform="translate(843.80,577.95) scale(1,1.015)" font-size="26.0" text-anchor="middle">0</text>
<text transform="translate(916.60,577.95) scale(1,1.015)" font-size="26.0" text-anchor="middle">1</text>
<text transform="translate(988.80,577.95) scale(1,1.015)" font-size="26.0" text-anchor="middle">2</text>
<text transform="translate(1063.20,577.95) scale(1,1.015)" font-size="26.0" text-anchor="middle">3</text>
<text transform="translate(1136.90,577.95) scale(1,1.015)" font-size="26.0" text-anchor="middle">4</text>
<text transform="translate(1212.50,577.95) scale(1,1.015)" font-size="26.0" text-anchor="middle">5</text>
<text transform="translate(1289.70,577.95) scale(1,1.015)" font-size="26.0" text-anchor="middle">6</text>
<text transform="translate(1363.80,577.95) scale(1,1.015)" font-size="26.0" text-anchor="middle">7</text>
<text transform="translate(1438.20,577.95) scale(1,1.015)" font-size="26.0" text-anchor="middle">8</text>
<text transform="translate(77.00,1204.95) scale(1,1.015)" font-size="26.0" text-anchor="middle">0</text>
<text transform="translate(150.00,1204.95) scale(1,1.015)" font-size="26.0" text-anchor="middle">1</text>
<text transform="translate(225.80,1204.95) scale(1,1.015)" font-size="26.0" text-anchor="middle">2</text>
<text transform="translate(300.20,1204.95) scale(1,1.015)" font-size="26.0" text-anchor="middle">3</text>
<text transform="translate(373.70,1204.95) scale(1,1.015)" font-size="26.0" text-anchor="middle">4</text>
<text transform="translate(448.70,1204.95) scale(1,1.015)" font-size="26.0" text-anchor="middle">5</text>
<text transform="translate(522.60,1204.95) scale(1,1.015)" font-size="26.0" text-anchor="middle">6</text>
<text transform="translate(596.80,1204.95) scale(1,1.015)" font-size="26.0" text-anchor="middle">7</text>
<text transform="translate(672.40,1204.95) scale(1,1.015)" font-size="26.0" text-anchor="middle">8</text>
<text transform="translate(840.00,1206.95) scale(1,1.015)" font-size="26.0" text-anchor="middle">0</text>
<text transform="translate(910.00,1206.95) scale(1,1.015)" font-size="26.0" text-anchor="middle">1</text>
<text transform="translate(985.00,1206.95) scale(1,1.015)" font-size="26.0" text-anchor="middle">2</text>
<text transform="translate(1059.40,1206.95) scale(1,1.015)" font-size="26.0" text-anchor="middle">3</text>
<text transform="translate(1133.50,1206.95) scale(1,1.015)" font-size="26.0" text-anchor="middle">4</text>
<text transform="translate(1221.40,1205.45) scale(1,1.015)" font-size="26.0" text-anchor="middle">5</text>
<text transform="translate(1285.60,1206.95) scale(1,1.015)" font-size="26.0" text-anchor="middle">6</text>
<text transform="translate(1360.00,1206.95) scale(1,1.015)" font-size="26.0" text-anchor="middle">7</text>
<text transform="translate(1435.00,1206.95) scale(1,1.015)" font-size="26.0" text-anchor="middle">8</text>
<text transform="translate(376.35,607.00)" font-size="29.6" text-anchor="middle">Distance (Å)</text>
<text transform="translate(1136.20,607.00)" font-size="29.6" text-anchor="middle">Distance (Å)</text>
<text transform="translate(372.55,1233.10)" font-size="29.6" text-anchor="middle">Distance (Å)</text>
<text transform="translate(1137.20,1233.10)" font-size="29.6" text-anchor="middle">Distance (Å)</text>
<text transform="translate(26.15,279.65) rotate(-90)" font-size="29.6" text-anchor="middle">g(r)</text>
<text transform="translate(789.50,279.45) rotate(-90)" font-size="29.6" text-anchor="middle">g(r)</text>
<text transform="translate(29.20,904.00) rotate(-90)" font-size="29.6" text-anchor="middle">g(r)</text>
<text transform="translate(785.45,904.00) rotate(-90)" font-size="29.6" text-anchor="middle">g(r)</text>
<text transform="translate(91.10,59.50) scale(1,1.04)" font-size="29.3">Cs-C</text>
<text transform="translate(853.10,59.50) scale(1,1.04)" font-size="29.3">Cs-Si</text>
<text transform="translate(90.40,689.90) scale(1,1.04)" font-size="29.3">Cs-C</text>
<text transform="translate(853.10,689.50) scale(1,1.04)" font-size="29.3">Cs-Si</text>
<text transform="translate(559.50,64.70) scale(1,1.015)" font-size="26.0">1673 K</text>
<text transform="translate(559.50,103.70) scale(1,1.015)" font-size="26.0">1773 K</text>
<text transform="translate(559.50,142.00) scale(1,1.015)" font-size="26.0">1873 K</text>
<text transform="translate(559.50,181.00) scale(1,1.015)" font-size="26.0">1973 K</text>
<text transform="translate(1322.10,65.10) scale(1,1.015)" font-size="26.0">1673 K</text>
<text transform="translate(1322.10,103.10) scale(1,1.015)" font-size="26.0">1773 K</text>
<text transform="translate(1322.10,142.00) scale(1,1.015)" font-size="26.0">1873 K</text>
<text transform="translate(1322.10,179.70) scale(1,1.015)" font-size="26.0">1973 K</text>
<text transform="translate(525.55,692.10) scale(1,1.015)" font-size="26.0">2.7 g/cm³</text>
<text transform="translate(525.55,730.20) scale(1,1.015)" font-size="26.0">2.8 g/cm³</text>
<text transform="translate(525.55,769.10) scale(1,1.015)" font-size="26.0">2.9 g/cm³</text>
<text transform="translate(525.55,807.80) scale(1,1.015)" font-size="26.0">3.0 g/cm³</text>
<text transform="translate(1287.55,695.50) scale(1,1.015)" font-size="26.0">2.7 g/cm³</text>
<text transform="translate(1287.55,733.20) scale(1,1.015)" font-size="26.0">2.8 g/cm³</text>
<text transform="translate(1287.55,771.90) scale(1,1.015)" font-size="26.0">2.9 g/cm³</text>
<text transform="translate(1287.55,809.60) scale(1,1.015)" font-size="26.0">3.0 g/cm³</text></g>
</svg>
</body></html>
